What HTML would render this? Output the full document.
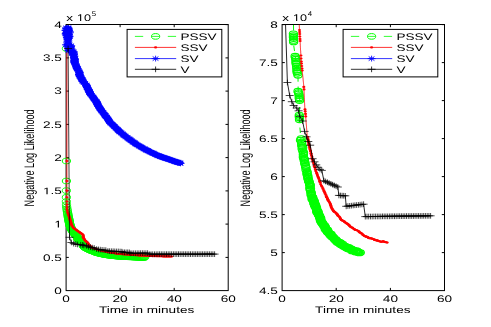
<!DOCTYPE html>
<html><head><meta charset="utf-8"><title>Negative Log Likelihood vs Time</title>
<style>html,body{margin:0;padding:0;background:#fff;}body{width:491px;height:327px;overflow:hidden;font-family:"Liberation Sans",sans-serif;}svg{display:block;will-change:transform;}text{text-rendering:geometricPrecision;}</style></head>
<body>
<svg width="491" height="327" viewBox="0 0 491 327" font-family="'Liberation Sans', sans-serif" fill="#000">
<defs><clipPath id="c1"><rect x="61.1" y="24.5" width="172.1" height="266.1"/></clipPath><clipPath id="c2"><rect x="282.1" y="24.5" width="162.1" height="266.1"/></clipPath></defs>
<rect width="491" height="327" fill="#fff"/>
<rect x="66.1" y="24.5" width="162.1" height="266.1" fill="#fff" stroke="#000" stroke-width="1"/><text transform="translate(66.1 302.2) scale(1.43 1)" text-anchor="middle" font-size="9.5">0</text><text transform="translate(120.1 302.2) scale(1.43 1)" text-anchor="middle" font-size="9.5">20</text><text transform="translate(174.2 302.2) scale(1.43 1)" text-anchor="middle" font-size="9.5">40</text><text transform="translate(228.2 302.2) scale(1.43 1)" text-anchor="middle" font-size="9.5">60</text><text transform="translate(61.9 293.9) scale(1.43 1)" text-anchor="end" font-size="9.5">0</text><text transform="translate(61.9 260.7) scale(1.43 1)" text-anchor="end" font-size="9.5">0.5</text><g transform="translate(61.9 227.4) scale(1.43 1)"><path transform="translate(-5.28 0) scale(0.00464 -0.00464)" d="M515 0V1237L197 1010V1180L530 1409H696V0Z"/></g><g transform="translate(61.9 194.2) scale(1.43 1)"><path transform="translate(-13.21 0) scale(0.00464 -0.00464)" d="M515 0V1237L197 1010V1180L530 1409H696V0Z"/><text x="-7.92" font-size="9.5">.5</text></g><text transform="translate(61.9 160.9) scale(1.43 1)" text-anchor="end" font-size="9.5">2</text><text transform="translate(61.9 127.7) scale(1.43 1)" text-anchor="end" font-size="9.5">2.5</text><text transform="translate(61.9 94.4) scale(1.43 1)" text-anchor="end" font-size="9.5">3</text><text transform="translate(61.9 61.2) scale(1.43 1)" text-anchor="end" font-size="9.5">3.5</text><text transform="translate(61.9 27.9) scale(1.43 1)" text-anchor="end" font-size="9.5">4</text><path d="M120.1 290.6v-2.7M120.1 24.5v2.7M174.2 290.6v-2.7M174.2 24.5v2.7M66.1 257.4h2.7M228.2 257.4h-2.7M66.1 224.1h2.7M228.2 224.1h-2.7M66.1 190.9h2.7M228.2 190.9h-2.7M66.1 157.6h2.7M228.2 157.6h-2.7M66.1 124.4h2.7M228.2 124.4h-2.7M66.1 91.1h2.7M228.2 91.1h-2.7M66.1 57.9h2.7M228.2 57.9h-2.7M66.1 24.6h2.7M228.2 24.6h-2.7" stroke="#000" stroke-width="1" fill="none"/><text transform="translate(146.6 313) scale(1.43 1)" text-anchor="middle" font-size="9.5">Time in minutes</text><text transform="translate(34.1 157.9) scale(1.52 1) rotate(-90)" text-anchor="middle" font-size="9.1">Negative Log Likelihood</text><text transform="translate(66.2 20.9) scale(1.43 1)" text-anchor="start" font-size="9.5">x</text><g transform="translate(76.9 20.9) scale(1.33 1)"><path transform="translate(0.00 0) scale(0.00464 -0.00464)" d="M515 0V1237L197 1010V1180L530 1409H696V0Z"/><text x="5.28" font-size="9.5">0</text></g><text transform="translate(91.8 15.8) scale(1.15 1)" text-anchor="start" font-size="6.8">5</text>
<g clip-path="url(#c1)" fill="none">
<path d="M66.4 197.3 L66.4 204 L66.8 208 L67.6 213 L68.7 219 L69.9 225 L71.6 229.5 L73.6 232.5 L75.4 234.8 L77.5 237.3 L77.8 239.3 L79.2 240.2 L82 242 L82.2 243.2 L83.8 244 L83.4 245.3 L83.2 245.7 L84.8 247.4 L85.4 247.8 L88 249.1 L90.8 250.4 L93.2 251.3 L96.4 252.6 L98.6 253.1 L102 253.9 L106.1 254.8 L112 255.6 L119 256.2 L128.3 256.8 L136 257.1 L142.5 257.3 L144.6 257.4" stroke="#0f0" stroke-width="1" stroke-dasharray="6 6"/>
<g stroke="#0f0" stroke-width="1"><ellipse cx="66.4" cy="48.5" rx="4.1" ry="2.8"/><ellipse cx="66.4" cy="161" rx="4.1" ry="2.8"/><ellipse cx="66.4" cy="181" rx="4.1" ry="2.8"/><ellipse cx="66.4" cy="190.6" rx="4.1" ry="2.8"/><ellipse cx="66.4" cy="197.3" rx="4.1" ry="2.8"/><ellipse cx="66.4" cy="201.5" rx="4.1" ry="2.8"/><ellipse cx="66.5" cy="204.6" rx="4.1" ry="2.8"/><ellipse cx="66.7" cy="207" rx="4.1" ry="2.8"/><ellipse cx="67" cy="209" rx="4.1" ry="2.8"/><ellipse cx="67.2" cy="210.6" rx="4.1" ry="2.8"/><ellipse cx="67.5" cy="212.1" rx="4.1" ry="2.8"/><ellipse cx="67.7" cy="213.4" rx="4.1" ry="2.8"/><ellipse cx="67.9" cy="214.6" rx="4.1" ry="2.8"/><ellipse cx="68.1" cy="215.7" rx="4.1" ry="2.8"/><ellipse cx="68.3" cy="216.7" rx="4.1" ry="2.8"/><ellipse cx="68.4" cy="217.5" rx="4.1" ry="2.8"/><ellipse cx="68.6" cy="218.3" rx="4.1" ry="2.8"/><ellipse cx="68.7" cy="219" rx="4.1" ry="2.8"/><ellipse cx="68.8" cy="219.6" rx="4.1" ry="2.8"/><ellipse cx="68.9" cy="220.2" rx="4.1" ry="2.8"/><ellipse cx="69.1" cy="220.8" rx="4.1" ry="2.8"/><ellipse cx="69.2" cy="221.4" rx="4.1" ry="2.8"/><ellipse cx="69.3" cy="222" rx="4.1" ry="2.8"/><ellipse cx="69.4" cy="222.5" rx="4.1" ry="2.8"/><ellipse cx="69.5" cy="223.1" rx="4.1" ry="2.8"/><ellipse cx="69.6" cy="223.7" rx="4.1" ry="2.8"/><ellipse cx="69.8" cy="224.3" rx="4.1" ry="2.8"/><ellipse cx="69.9" cy="224.9" rx="4.1" ry="2.8"/><ellipse cx="70.1" cy="225.5" rx="4.1" ry="2.8"/><ellipse cx="70.3" cy="226" rx="4.1" ry="2.8"/><ellipse cx="70.5" cy="226.6" rx="4.1" ry="2.8"/><ellipse cx="70.7" cy="227.2" rx="4.1" ry="2.8"/><ellipse cx="70.9" cy="227.7" rx="4.1" ry="2.8"/><ellipse cx="71.1" cy="228.3" rx="4.1" ry="2.8"/><ellipse cx="71.3" cy="228.8" rx="4.1" ry="2.8"/><ellipse cx="71.6" cy="229.4" rx="4.1" ry="2.8"/><ellipse cx="71.9" cy="229.9" rx="4.1" ry="2.8"/><ellipse cx="72.2" cy="230.4" rx="4.1" ry="2.8"/><ellipse cx="72.5" cy="230.9" rx="4.1" ry="2.8"/><ellipse cx="72.9" cy="231.4" rx="4.1" ry="2.8"/><ellipse cx="73.2" cy="231.9" rx="4.1" ry="2.8"/><ellipse cx="73.5" cy="232.4" rx="4.1" ry="2.8"/><ellipse cx="73.9" cy="232.9" rx="4.1" ry="2.8"/><ellipse cx="74.3" cy="233.4" rx="4.1" ry="2.8"/><ellipse cx="74.6" cy="233.8" rx="4.1" ry="2.8"/><ellipse cx="75" cy="234.3" rx="4.1" ry="2.8"/><ellipse cx="75.4" cy="234.8" rx="4.1" ry="2.8"/><ellipse cx="75.8" cy="235.2" rx="4.1" ry="2.8"/><ellipse cx="76.1" cy="235.7" rx="4.1" ry="2.8"/><ellipse cx="76.5" cy="236.2" rx="4.1" ry="2.8"/><ellipse cx="76.9" cy="236.6" rx="4.1" ry="2.8"/><ellipse cx="77.3" cy="237.1" rx="4.1" ry="2.8"/><ellipse cx="77.5" cy="237.4" rx="4.1" ry="2.8"/><ellipse cx="77.6" cy="238" rx="4.1" ry="2.8"/><ellipse cx="77.7" cy="238.5" rx="4.1" ry="2.8"/><ellipse cx="77.8" cy="239.1" rx="4.1" ry="2.8"/><ellipse cx="78.1" cy="239.5" rx="4.1" ry="2.8"/><ellipse cx="78.6" cy="239.8" rx="4.1" ry="2.8"/><ellipse cx="79.1" cy="240.1" rx="4.1" ry="2.8"/><ellipse cx="79.6" cy="240.4" rx="4.1" ry="2.8"/><ellipse cx="80.1" cy="240.7" rx="4.1" ry="2.8"/><ellipse cx="80.6" cy="241.1" rx="4.1" ry="2.8"/><ellipse cx="81.1" cy="241.4" rx="4.1" ry="2.8"/><ellipse cx="81.5" cy="241.7" rx="4.1" ry="2.8"/><ellipse cx="82" cy="242" rx="4.1" ry="2.8"/><ellipse cx="82.1" cy="242.6" rx="4.1" ry="2.8"/><ellipse cx="82.2" cy="243.1" rx="4.1" ry="2.8"/><ellipse cx="82.6" cy="243.4" rx="4.1" ry="2.8"/><ellipse cx="83.2" cy="243.7" rx="4.1" ry="2.8"/><ellipse cx="83.7" cy="244" rx="4.1" ry="2.8"/><ellipse cx="83.6" cy="244.5" rx="4.1" ry="2.8"/><ellipse cx="83.5" cy="245.1" rx="4.1" ry="2.8"/><ellipse cx="83.2" cy="245.6" rx="4.1" ry="2.8"/><ellipse cx="83.6" cy="246.1" rx="4.1" ry="2.8"/><ellipse cx="84" cy="246.5" rx="4.1" ry="2.8"/><ellipse cx="84.3" cy="246.9" rx="4.1" ry="2.8"/><ellipse cx="84.7" cy="247.3" rx="4.1" ry="2.8"/><ellipse cx="85.2" cy="247.7" rx="4.1" ry="2.8"/><ellipse cx="85.7" cy="247.9" rx="4.1" ry="2.8"/><ellipse cx="86.2" cy="248.2" rx="4.1" ry="2.8"/><ellipse cx="86.8" cy="248.5" rx="4.1" ry="2.8"/><ellipse cx="87.3" cy="248.7" rx="4.1" ry="2.8"/><ellipse cx="87.8" cy="249" rx="4.1" ry="2.8"/><ellipse cx="88.3" cy="249.2" rx="4.1" ry="2.8"/><ellipse cx="88.8" cy="249.5" rx="4.1" ry="2.8"/><ellipse cx="89.3" cy="249.7" rx="4.1" ry="2.8"/><ellipse cx="89.8" cy="249.9" rx="4.1" ry="2.8"/><ellipse cx="90.3" cy="250.2" rx="4.1" ry="2.8"/><ellipse cx="90.8" cy="250.4" rx="4.1" ry="2.8"/><ellipse cx="91.4" cy="250.6" rx="4.1" ry="2.8"/><ellipse cx="91.9" cy="250.8" rx="4.1" ry="2.8"/><ellipse cx="92.5" cy="251" rx="4.1" ry="2.8"/><ellipse cx="93" cy="251.2" rx="4.1" ry="2.8"/><ellipse cx="93.6" cy="251.4" rx="4.1" ry="2.8"/><ellipse cx="94.2" cy="251.7" rx="4.1" ry="2.8"/><ellipse cx="94.7" cy="251.9" rx="4.1" ry="2.8"/><ellipse cx="95.2" cy="252.1" rx="4.1" ry="2.8"/><ellipse cx="95.8" cy="252.4" rx="4.1" ry="2.8"/><ellipse cx="96.3" cy="252.6" rx="4.1" ry="2.8"/><ellipse cx="97" cy="252.7" rx="4.1" ry="2.8"/><ellipse cx="97.5" cy="252.9" rx="4.1" ry="2.8"/><ellipse cx="98.1" cy="253" rx="4.1" ry="2.8"/><ellipse cx="98.6" cy="253.1" rx="4.1" ry="2.8"/><ellipse cx="99.2" cy="253.3" rx="4.1" ry="2.8"/><ellipse cx="99.8" cy="253.4" rx="4.1" ry="2.8"/><ellipse cx="100.4" cy="253.6" rx="4.1" ry="2.8"/><ellipse cx="101.1" cy="253.7" rx="4.1" ry="2.8"/><ellipse cx="101.7" cy="253.9" rx="4.1" ry="2.8"/><ellipse cx="102.2" cy="254" rx="4.1" ry="2.8"/><ellipse cx="102.8" cy="254.1" rx="4.1" ry="2.8"/><ellipse cx="103.4" cy="254.2" rx="4.1" ry="2.8"/><ellipse cx="104" cy="254.3" rx="4.1" ry="2.8"/><ellipse cx="104.6" cy="254.5" rx="4.1" ry="2.8"/><ellipse cx="105.2" cy="254.6" rx="4.1" ry="2.8"/><ellipse cx="105.8" cy="254.7" rx="4.1" ry="2.8"/><ellipse cx="106.4" cy="254.8" rx="4.1" ry="2.8"/><ellipse cx="107" cy="254.9" rx="4.1" ry="2.8"/><ellipse cx="107.7" cy="255" rx="4.1" ry="2.8"/><ellipse cx="108.3" cy="255.1" rx="4.1" ry="2.8"/><ellipse cx="108.9" cy="255.1" rx="4.1" ry="2.8"/><ellipse cx="109.6" cy="255.2" rx="4.1" ry="2.8"/><ellipse cx="110.2" cy="255.3" rx="4.1" ry="2.8"/><ellipse cx="110.9" cy="255.4" rx="4.1" ry="2.8"/><ellipse cx="111.5" cy="255.5" rx="4.1" ry="2.8"/><ellipse cx="112.2" cy="255.6" rx="4.1" ry="2.8"/><ellipse cx="112.8" cy="255.6" rx="4.1" ry="2.8"/><ellipse cx="113.4" cy="255.7" rx="4.1" ry="2.8"/><ellipse cx="114" cy="255.8" rx="4.1" ry="2.8"/><ellipse cx="114.6" cy="255.8" rx="4.1" ry="2.8"/><ellipse cx="115.2" cy="255.9" rx="4.1" ry="2.8"/><ellipse cx="115.8" cy="255.9" rx="4.1" ry="2.8"/><ellipse cx="116.4" cy="256" rx="4.1" ry="2.8"/><ellipse cx="117.1" cy="256.1" rx="4.1" ry="2.8"/><ellipse cx="117.7" cy="256.1" rx="4.1" ry="2.8"/><ellipse cx="118.3" cy="256.2" rx="4.1" ry="2.8"/><ellipse cx="118.9" cy="256.2" rx="4.1" ry="2.8"/><ellipse cx="119.6" cy="256.3" rx="4.1" ry="2.8"/><ellipse cx="120.4" cy="256.3" rx="4.1" ry="2.8"/><ellipse cx="121.1" cy="256.4" rx="4.1" ry="2.8"/><ellipse cx="121.9" cy="256.4" rx="4.1" ry="2.8"/><ellipse cx="122.6" cy="256.4" rx="4.1" ry="2.8"/><ellipse cx="123.4" cy="256.5" rx="4.1" ry="2.8"/><ellipse cx="124.1" cy="256.5" rx="4.1" ry="2.8"/><ellipse cx="124.9" cy="256.6" rx="4.1" ry="2.8"/><ellipse cx="125.6" cy="256.6" rx="4.1" ry="2.8"/><ellipse cx="126.3" cy="256.7" rx="4.1" ry="2.8"/><ellipse cx="127.1" cy="256.7" rx="4.1" ry="2.8"/><ellipse cx="127.8" cy="256.8" rx="4.1" ry="2.8"/><ellipse cx="128.6" cy="256.8" rx="4.1" ry="2.8"/><ellipse cx="129.4" cy="256.8" rx="4.1" ry="2.8"/><ellipse cx="130.2" cy="256.9" rx="4.1" ry="2.8"/><ellipse cx="131" cy="256.9" rx="4.1" ry="2.8"/><ellipse cx="131.8" cy="256.9" rx="4.1" ry="2.8"/><ellipse cx="132.6" cy="257" rx="4.1" ry="2.8"/><ellipse cx="133.4" cy="257" rx="4.1" ry="2.8"/><ellipse cx="134.1" cy="257.1" rx="4.1" ry="2.8"/><ellipse cx="134.9" cy="257.1" rx="4.1" ry="2.8"/><ellipse cx="135.7" cy="257.1" rx="4.1" ry="2.8"/><ellipse cx="136.6" cy="257.2" rx="4.1" ry="2.8"/><ellipse cx="137.1" cy="257.2" rx="4.1" ry="2.8"/><ellipse cx="137.7" cy="257.2" rx="4.1" ry="2.8"/><ellipse cx="138.3" cy="257.2" rx="4.1" ry="2.8"/><ellipse cx="138.8" cy="257.2" rx="4.1" ry="2.8"/><ellipse cx="139.4" cy="257.2" rx="4.1" ry="2.8"/><ellipse cx="140" cy="257.3" rx="4.1" ry="2.8"/><ellipse cx="140.5" cy="257.3" rx="4.1" ry="2.8"/><ellipse cx="141.1" cy="257.3" rx="4.1" ry="2.8"/><ellipse cx="141.7" cy="257.3" rx="4.1" ry="2.8"/><ellipse cx="142.2" cy="257.3" rx="4.1" ry="2.8"/><ellipse cx="142.8" cy="257.3" rx="4.1" ry="2.8"/><ellipse cx="143.4" cy="257.4" rx="4.1" ry="2.8"/><ellipse cx="144" cy="257.4" rx="4.1" ry="2.8"/><ellipse cx="144.6" cy="257.4" rx="4.1" ry="2.8"/></g>
<path d="M66.9 48.5 L66.9 161 L66.9 181 L66.9 190.6 L66.9 197.3 L67 209 L67.8 213 L69.4 217.4 L70.4 221 L71.6 225 L73.6 228 L76.1 229.8 L80 232.6 L83 234.6 L83.4 237.3 L83.2 237.4 L83.3 237.5 L83.3 237.5 L83.3 237.6 L83.3 237.6 L83.4 237.7 L83.4 237.7 L83.4 237.8 L83.4 237.8 L83.5 237.8 L83.5 237.9 L83.5 237.9 L83.5 238 L83.6 238 L83.6 238.1 L83.6 238.1 L83.7 238.1 L83.7 238.2 L83.7 238.2 L83.7 238.3 L83.8 238.3 L83.8 238.4 L83.8 238.4 L83.8 238.5 L83.9 238.5 L83.9 238.5 L83.9 238.6 L84 238.6 L84 238.7 L84 238.7 L84 238.8 L84.1 238.8 L84.1 238.8 L84.1 238.9 L84.1 238.9 L84.2 239 L84.2 239 L84.2 239.1 L84.2 239.1 L84.3 239.2 L84.3 239.2 L84.3 239.2 L84.4 239.3 L84.4 239.3 L84.4 239.4 L84.4 239.4 L84.5 239.5 L84.5 239.5 L84.5 239.5 L84.5 239.6 L84.6 239.6 L84.6 239.7 L84.6 239.7 L84.7 239.8 L84.7 239.8 L84.7 239.9 L84.7 239.9 L84.8 239.9 L84.8 240 L84.8 240 L84.8 240.1 L84.9 240.1 L84.9 240.2 L84.9 240.2 L84.9 240.2 L85 240.3 L85 240.3 L85 240.4 L85.1 240.4 L85.1 240.5 L85.1 240.5 L85.2 240.6 L85.2 240.6 L85.3 240.6 L85.3 240.7 L85.4 240.7 L85.4 240.8 L85.5 240.8 L85.5 240.9 L85.6 240.9 L85.6 240.9 L85.7 241 L85.7 241 L85.8 241.1 L85.8 241.1 L85.9 241.2 L85.9 241.2 L86 241.2 L86 241.3 L86.1 241.3 L86.1 241.4 L86.2 241.4 L86.3 241.5 L86.3 241.5 L86.4 241.6 L86.4 241.6 L86.5 241.6 L86.5 241.7 L86.6 241.7 L86.6 241.8 L86.7 241.8 L86.7 241.9 L86.8 241.9 L86.8 241.9 L86.9 242 L86.9 242 L87 242.1 L87 242.1 L87.1 242.2 L87.1 242.2 L87.2 242.3 L87.2 242.3 L87.3 242.3 L87.3 242.4 L87.4 242.4 L87.4 242.5 L87.5 242.5 L87.5 242.6 L87.6 242.6 L87.6 242.6 L87.7 242.7 L87.7 242.7 L87.8 242.8 L87.8 242.8 L87.8 242.9 L87.9 242.9 L87.9 242.9 L87.9 243 L87.9 243 L88 243.1 L88 243.1 L88 243.2 L88 243.2 L88 243.3 L88.1 243.3 L88.1 243.3 L88.1 243.4 L88.1 243.4 L88.2 243.5 L88.2 243.5 L88.2 243.6 L88.2 243.6 L88.3 243.7 L88.3 243.7 L88.3 243.7 L88.3 243.8 L88.3 243.8 L88.4 243.9 L88.4 243.9 L88.4 244 L88.4 244 L88.5 244 L88.5 244.1 L88.5 244.1 L88.5 244.2 L88.5 244.2 L88.6 244.3 L88.6 244.3 L88.6 244.4 L88.6 244.4 L88.7 244.4 L88.7 244.5 L88.7 244.5 L88.7 244.6 L88.8 244.6 L88.8 244.7 L88.8 244.7 L88.9 244.7 L88.9 244.8 L89 244.8 L89 244.9 L89.1 244.9 L89.2 245 L89.2 245 L89.3 245 L89.3 245.1 L89.4 245.1 L89.4 245.2 L89.5 245.2 L89.5 245.3 L89.5 245.3 L89.6 245.4 L89.6 245.4 L89.7 245.4 L89.7 245.5 L89.7 245.5 L89.8 245.6 L89.8 245.6 L89.9 245.7 L89.9 245.7 L89.9 245.7 L90 245.8 L90 245.8 L90.1 245.9 L90.1 245.9 L90.1 246 L90.2 246 L90.2 246.1 L90.3 246.1 L90.3 246.1 L90.3 246.2 L90.4 246.2 L90.4 246.3 L90.5 246.3 L90.5 246.4 L90.5 246.4 L90.6 246.4 L90.6 246.5 L90.7 246.5 L90.7 246.6 L90.7 246.6 L90.8 246.7 L90.8 246.7 L90.9 246.8 L90.9 246.8 L90.9 246.8 L91 246.9 L91 246.9 L91.1 247 L91.1 247 L91.1 247.1 L91.2 247.1 L91.2 247.1 L91.3 247.2 L91.4 247.2 L91.5 247.3 L91.6 247.3 L91.7 247.4 L91.8 247.4 L91.9 247.4 L92 247.5 L92.1 247.5 L92.2 247.6 L92.3 247.6 L92.4 247.7 L92.5 247.7 L92.6 247.7 L92.7 247.8 L92.8 247.8 L92.9 247.9 L93 247.9 L93.1 248 L93.2 248 L93.2 248 L93.3 248.1 L93.4 248.1 L93.5 248.2 L93.6 248.2 L93.8 248.3 L93.9 248.3 L94 248.3 L94.1 248.4 L94.2 248.4 L94.4 248.5 L94.5 248.5 L94.6 248.6 L94.7 248.6 L94.8 248.6 L95 248.7 L95.1 248.7 L95.2 248.8 L95.3 248.8 L95.4 248.9 L95.6 248.9 L95.7 248.9 L95.8 249 L95.9 249 L96 249.1 L96.2 249.1 L96.3 249.2 L96.4 249.2 L96.5 249.2 L96.6 249.3 L96.8 249.3 L96.9 249.4 L97 249.4 L97.2 249.4 L97.3 249.5 L97.5 249.5 L97.6 249.6 L97.8 249.6 L97.9 249.7 L98.1 249.7 L98.2 249.7 L98.4 249.8 L98.5 249.8 L98.7 249.9 L98.8 249.9 L99 250 L99.1 250 L99.3 250 L99.4 250.1 L99.6 250.1 L99.7 250.2 L99.9 250.2 L100 250.2 L100.2 250.3 L100.4 250.3 L100.5 250.4 L100.7 250.4 L100.8 250.4 L101 250.5 L101.2 250.5 L101.3 250.6 L101.5 250.6 L101.6 250.7 L101.8 250.7 L102 250.7 L102.2 250.8 L102.4 250.8 L102.6 250.9 L102.8 250.9 L103 251 L103.2 251 L103.4 251.1 L103.6 251.1 L103.7 251.1 L103.9 251.2 L104.1 251.2 L104.3 251.2 L104.5 251.3 L104.7 251.3 L104.9 251.4 L105.1 251.4 L105.3 251.5 L105.5 251.5 L105.7 251.5 L105.9 251.6 L106.1 251.6 L106.2 251.6 L106.4 251.7 L106.6 251.7 L106.8 251.7 L107 251.8 L107.3 251.8 L107.5 251.9 L107.7 251.9 L107.9 251.9 L108.1 252 L108.3 252 L108.5 252.1 L108.7 252.1 L108.9 252.1 L109.1 252.2 L109.3 252.2 L109.5 252.3 L109.7 252.3 L109.9 252.4 L110.1 252.4 L110.3 252.5 L110.5 252.5 L110.7 252.5 L110.9 252.5 L111.2 252.6 L111.4 252.6 L111.6 252.6 L111.8 252.7 L112 252.7 L112.2 252.8 L112.4 252.8 L112.7 252.9 L112.9 252.9 L113.1 252.9 L113.3 253 L113.6 253 L113.8 253 L114 253.1 L114.2 253.1 L114.5 253.2 L114.7 253.3 L114.9 253.3 L115.2 253.4 L115.4 253.4 L115.6 253.4 L115.8 253.5 L116.1 253.5 L116.3 253.5 L116.5 253.6 L116.7 253.6 L117 253.6 L117.2 253.7 L117.5 253.7 L117.8 253.8 L118.2 253.8 L118.5 253.8 L118.8 253.8 L119.1 253.8 L119.5 253.8 L119.8 253.9 L120.1 253.9 L120.5 253.9 L120.8 254 L121.1 254 L121.5 254.1 L121.8 254.1 L122.1 254.1 L122.4 254.2 L122.8 254.2 L123.1 254.2 L123.4 254.2 L123.8 254.3 L124.1 254.3 L124.4 254.4 L124.8 254.4 L125.2 254.5 L125.5 254.5 L125.9 254.5 L126.3 254.5 L126.7 254.6 L127.1 254.6 L127.5 254.6 L127.9 254.6 L128.3 254.7 L128.7 254.7 L129.1 254.7 L129.5 254.7 L129.9 254.8 L130.3 254.8 L130.7 254.8 L131.1 254.8 L131.5 254.8 L131.9 254.9 L132.3 254.9 L132.7 254.9 L133.1 255 L133.5 255 L134 255 L134.4 255.1 L134.8 255.1 L135.2 255.1 L135.6 255.1 L136 255.2 L136.4 255.2 L136.8 255.2 L137.3 255.2 L137.7 255.3 L138.1 255.3 L138.5 255.3 L138.9 255.4 L139.3 255.4 L139.7 255.4 L140.2 255.4 L140.6 255.4 L141 255.4 L141.4 255.4 L141.8 255.4 L142.2 255.5 L142.6 255.5 L143 255.5 L143.4 255.6 L143.8 255.6 L144.2 255.6 L144.7 255.6 L145.1 255.7 L145.5 255.7 L145.9 255.7 L146.3 255.7 L146.7 255.8 L147.2 255.8 L147.6 255.9 L148.1 255.9 L148.5 255.9 L149 255.9 L149.4 256 L149.9 256 L150.3 256 L150.8 256 L151.2 256 L151.7 256 L152.1 256 L152.6 256.1 L153 256.1 L153.5 256.1 L154 256.1 L154.4 256.1 L154.9 256.1 L155.4 256.1 L155.9 256.1 L156.3 256.1 L156.8 256.1 L157.3 256.2 L157.8 256.2 L158.2 256.2 L158.7 256.3 L159.2 256.3 L159.7 256.3 L160.1 256.3 L160.6 256.3 L161.1 256.3 L161.6 256.3 L162.1 256.3 L162.6 256.3 L163 256.4 L163.5 256.4 L164 256.4 L164.5 256.4 L165 256.4 L165.5 256.4 L166 256.4 L166.4 256.4 L166.9 256.4 L167.4 256.4 L167.9 256.4 L168.4 256.4 L168.9 256.4 L169.4 256.4 L169.9 256.5 L170.3 256.5 L170.8 256.5 L171.3 256.5 L171.8 256.5" stroke="#f00" stroke-width="0.8"/>
<g fill="#f00"><ellipse cx="66.9" cy="48.5" rx="1.6" ry="1.05"/><ellipse cx="66.9" cy="161" rx="1.6" ry="1.05"/><ellipse cx="66.9" cy="181" rx="1.6" ry="1.05"/><ellipse cx="66.9" cy="190.6" rx="1.6" ry="1.05"/><ellipse cx="66.9" cy="197.3" rx="1.6" ry="1.05"/><ellipse cx="66.9" cy="201.5" rx="1.6" ry="1.05"/><ellipse cx="67" cy="204.6" rx="1.6" ry="1.05"/><ellipse cx="67" cy="207" rx="1.6" ry="1.05"/><ellipse cx="67" cy="209" rx="1.6" ry="1.05"/><ellipse cx="67.3" cy="210.7" rx="1.6" ry="1.05"/><ellipse cx="67.6" cy="212.2" rx="1.6" ry="1.05"/><ellipse cx="68" cy="213.4" rx="1.6" ry="1.05"/><ellipse cx="68.4" cy="214.6" rx="1.6" ry="1.05"/><ellipse cx="68.7" cy="215.6" rx="1.6" ry="1.05"/><ellipse cx="69.1" cy="216.5" rx="1.6" ry="1.05"/><ellipse cx="69.4" cy="217.4" rx="1.6" ry="1.05"/><ellipse cx="69.6" cy="218.2" rx="1.6" ry="1.05"/><ellipse cx="69.8" cy="218.8" rx="1.6" ry="1.05"/><ellipse cx="70" cy="219.6" rx="1.6" ry="1.05"/><ellipse cx="70.2" cy="220.4" rx="1.6" ry="1.05"/><ellipse cx="70.4" cy="221.1" rx="1.6" ry="1.05"/><ellipse cx="70.7" cy="221.9" rx="1.6" ry="1.05"/><ellipse cx="70.9" cy="222.7" rx="1.6" ry="1.05"/><ellipse cx="71.1" cy="223.4" rx="1.6" ry="1.05"/><ellipse cx="71.4" cy="224.2" rx="1.6" ry="1.05"/><ellipse cx="71.6" cy="225" rx="1.6" ry="1.05"/><ellipse cx="72" cy="225.7" rx="1.6" ry="1.05"/><ellipse cx="72.5" cy="226.3" rx="1.6" ry="1.05"/><ellipse cx="72.9" cy="227" rx="1.6" ry="1.05"/><ellipse cx="73.4" cy="227.7" rx="1.6" ry="1.05"/><ellipse cx="73.9" cy="228.2" rx="1.6" ry="1.05"/><ellipse cx="74.6" cy="228.7" rx="1.6" ry="1.05"/><ellipse cx="75.2" cy="229.2" rx="1.6" ry="1.05"/><ellipse cx="75.9" cy="229.6" rx="1.6" ry="1.05"/><ellipse cx="76.5" cy="230.1" rx="1.6" ry="1.05"/><ellipse cx="77.2" cy="230.6" rx="1.6" ry="1.05"/><ellipse cx="77.8" cy="231" rx="1.6" ry="1.05"/><ellipse cx="78.5" cy="231.5" rx="1.6" ry="1.05"/><ellipse cx="79.1" cy="232" rx="1.6" ry="1.05"/><ellipse cx="79.8" cy="232.4" rx="1.6" ry="1.05"/><ellipse cx="80.4" cy="232.9" rx="1.6" ry="1.05"/><ellipse cx="81.1" cy="233.3" rx="1.6" ry="1.05"/><ellipse cx="81.8" cy="233.8" rx="1.6" ry="1.05"/><ellipse cx="82.4" cy="234.2" rx="1.6" ry="1.05"/><ellipse cx="83" cy="234.8" rx="1.6" ry="1.05"/><ellipse cx="83.2" cy="235.6" rx="1.6" ry="1.05"/><ellipse cx="83.3" cy="236.4" rx="1.6" ry="1.05"/><ellipse cx="83.4" cy="237.2" rx="1.6" ry="1.05"/><ellipse cx="83.2" cy="237.4" rx="1.6" ry="1.05"/><ellipse cx="83.6" cy="238.1" rx="1.6" ry="1.05"/><ellipse cx="84.1" cy="238.8" rx="1.6" ry="1.05"/><ellipse cx="84.5" cy="239.5" rx="1.6" ry="1.05"/><ellipse cx="84.9" cy="240.2" rx="1.6" ry="1.05"/><ellipse cx="85.5" cy="240.8" rx="1.6" ry="1.05"/><ellipse cx="86.1" cy="241.3" rx="1.6" ry="1.05"/><ellipse cx="86.7" cy="241.9" rx="1.6" ry="1.05"/><ellipse cx="87.3" cy="242.4" rx="1.6" ry="1.05"/><ellipse cx="87.9" cy="243" rx="1.6" ry="1.05"/><ellipse cx="88.3" cy="243.7" rx="1.6" ry="1.05"/><ellipse cx="88.7" cy="244.5" rx="1.6" ry="1.05"/><ellipse cx="89.3" cy="245" rx="1.6" ry="1.05"/><ellipse cx="89.9" cy="245.7" rx="1.6" ry="1.05"/><ellipse cx="90.4" cy="246.3" rx="1.6" ry="1.05"/><ellipse cx="91" cy="246.9" rx="1.6" ry="1.05"/><ellipse cx="91.7" cy="247.4" rx="1.6" ry="1.05"/><ellipse cx="92.5" cy="247.7" rx="1.6" ry="1.05"/><ellipse cx="93.2" cy="248" rx="1.6" ry="1.05"/><ellipse cx="94" cy="248.3" rx="1.6" ry="1.05"/><ellipse cx="94.8" cy="248.6" rx="1.6" ry="1.05"/><ellipse cx="95.7" cy="248.9" rx="1.6" ry="1.05"/><ellipse cx="96.5" cy="249.2" rx="1.6" ry="1.05"/><ellipse cx="97.3" cy="249.5" rx="1.6" ry="1.05"/><ellipse cx="98.2" cy="249.7" rx="1.6" ry="1.05"/><ellipse cx="99.1" cy="250" rx="1.6" ry="1.05"/><ellipse cx="99.9" cy="250.2" rx="1.6" ry="1.05"/><ellipse cx="100.7" cy="250.4" rx="1.6" ry="1.05"/><ellipse cx="101.5" cy="250.6" rx="1.6" ry="1.05"/><ellipse cx="102.4" cy="250.8" rx="1.6" ry="1.05"/><ellipse cx="103.4" cy="251.1" rx="1.6" ry="1.05"/><ellipse cx="104.3" cy="251.2" rx="1.6" ry="1.05"/><ellipse cx="105.3" cy="251.5" rx="1.6" ry="1.05"/><ellipse cx="106.2" cy="251.6" rx="1.6" ry="1.05"/><ellipse cx="107" cy="251.8" rx="1.6" ry="1.05"/><ellipse cx="107.9" cy="251.9" rx="1.6" ry="1.05"/><ellipse cx="108.7" cy="252.1" rx="1.6" ry="1.05"/><ellipse cx="109.5" cy="252.3" rx="1.6" ry="1.05"/><ellipse cx="110.3" cy="252.5" rx="1.6" ry="1.05"/><ellipse cx="111.2" cy="252.6" rx="1.6" ry="1.05"/><ellipse cx="112" cy="252.7" rx="1.6" ry="1.05"/><ellipse cx="112.9" cy="252.9" rx="1.6" ry="1.05"/><ellipse cx="113.8" cy="253" rx="1.6" ry="1.05"/><ellipse cx="114.7" cy="253.3" rx="1.6" ry="1.05"/><ellipse cx="115.6" cy="253.4" rx="1.6" ry="1.05"/><ellipse cx="116.5" cy="253.6" rx="1.6" ry="1.05"/><ellipse cx="117.5" cy="253.7" rx="1.6" ry="1.05"/><ellipse cx="118.5" cy="253.8" rx="1.6" ry="1.05"/><ellipse cx="119.5" cy="253.8" rx="1.6" ry="1.05"/><ellipse cx="120.5" cy="253.9" rx="1.6" ry="1.05"/><ellipse cx="121.5" cy="254.1" rx="1.6" ry="1.05"/><ellipse cx="122.4" cy="254.2" rx="1.6" ry="1.05"/><ellipse cx="123.4" cy="254.2" rx="1.6" ry="1.05"/><ellipse cx="124.4" cy="254.4" rx="1.6" ry="1.05"/><ellipse cx="125.5" cy="254.5" rx="1.6" ry="1.05"/><ellipse cx="126.7" cy="254.6" rx="1.6" ry="1.05"/><ellipse cx="127.9" cy="254.6" rx="1.6" ry="1.05"/><ellipse cx="129.1" cy="254.7" rx="1.6" ry="1.05"/><ellipse cx="130.3" cy="254.8" rx="1.6" ry="1.05"/><ellipse cx="131.5" cy="254.8" rx="1.6" ry="1.05"/><ellipse cx="132.3" cy="254.9" rx="1.6" ry="1.05"/><ellipse cx="133.1" cy="255" rx="1.6" ry="1.05"/><ellipse cx="134" cy="255" rx="1.6" ry="1.05"/><ellipse cx="134.8" cy="255.1" rx="1.6" ry="1.05"/><ellipse cx="135.6" cy="255.1" rx="1.6" ry="1.05"/><ellipse cx="136.4" cy="255.2" rx="1.6" ry="1.05"/><ellipse cx="137.3" cy="255.2" rx="1.6" ry="1.05"/><ellipse cx="138.1" cy="255.3" rx="1.6" ry="1.05"/><ellipse cx="138.9" cy="255.4" rx="1.6" ry="1.05"/><ellipse cx="139.7" cy="255.4" rx="1.6" ry="1.05"/><ellipse cx="140.6" cy="255.4" rx="1.6" ry="1.05"/><ellipse cx="141.4" cy="255.4" rx="1.6" ry="1.05"/><ellipse cx="142.2" cy="255.5" rx="1.6" ry="1.05"/><ellipse cx="143" cy="255.5" rx="1.6" ry="1.05"/><ellipse cx="143.8" cy="255.6" rx="1.6" ry="1.05"/><ellipse cx="144.7" cy="255.6" rx="1.6" ry="1.05"/><ellipse cx="145.5" cy="255.7" rx="1.6" ry="1.05"/><ellipse cx="146.3" cy="255.7" rx="1.6" ry="1.05"/><ellipse cx="147.2" cy="255.8" rx="1.6" ry="1.05"/><ellipse cx="148.1" cy="255.9" rx="1.6" ry="1.05"/><ellipse cx="149" cy="255.9" rx="1.6" ry="1.05"/><ellipse cx="149.9" cy="256" rx="1.6" ry="1.05"/><ellipse cx="150.8" cy="256" rx="1.6" ry="1.05"/><ellipse cx="151.7" cy="256" rx="1.6" ry="1.05"/><ellipse cx="152.6" cy="256.1" rx="1.6" ry="1.05"/><ellipse cx="153.5" cy="256.1" rx="1.6" ry="1.05"/><ellipse cx="154.4" cy="256.1" rx="1.6" ry="1.05"/><ellipse cx="155.4" cy="256.1" rx="1.6" ry="1.05"/><ellipse cx="156.3" cy="256.1" rx="1.6" ry="1.05"/><ellipse cx="157.3" cy="256.2" rx="1.6" ry="1.05"/><ellipse cx="158.2" cy="256.2" rx="1.6" ry="1.05"/><ellipse cx="159.2" cy="256.3" rx="1.6" ry="1.05"/><ellipse cx="160.1" cy="256.3" rx="1.6" ry="1.05"/><ellipse cx="161.1" cy="256.3" rx="1.6" ry="1.05"/><ellipse cx="162.1" cy="256.3" rx="1.6" ry="1.05"/><ellipse cx="163" cy="256.4" rx="1.6" ry="1.05"/><ellipse cx="164" cy="256.4" rx="1.6" ry="1.05"/><ellipse cx="165" cy="256.4" rx="1.6" ry="1.05"/><ellipse cx="166" cy="256.4" rx="1.6" ry="1.05"/><ellipse cx="166.9" cy="256.4" rx="1.6" ry="1.05"/><ellipse cx="167.9" cy="256.4" rx="1.6" ry="1.05"/><ellipse cx="168.9" cy="256.4" rx="1.6" ry="1.05"/><ellipse cx="169.9" cy="256.5" rx="1.6" ry="1.05"/><ellipse cx="170.8" cy="256.5" rx="1.6" ry="1.05"/><ellipse cx="171.8" cy="256.5" rx="1.6" ry="1.05"/></g>
<path d="M67.8 28 L68 28 L66.2 28.1 L68.6 28.1 L66.2 28.2 L68.3 28.5 L67.8 28.8 L68.5 29.2 L68 29.7 L68.5 29.7 L67.7 29.9 L65.7 30.2 L66.5 30.2 L65.6 30.4 L68 30.5 L69.1 30.6 L67.5 31.4 L69.6 31.6 L66.9 32.6 L69.8 32.7 L66.6 32.7 L66.1 33.3 L68.2 33.7 L66.5 33.8 L66.7 33.8 L65.6 33.9 L68.9 34.1 L67.1 34.2 L67.6 34.2 L68 34.6 L66 35.1 L69 36 L68.8 36.1 L69.6 36.3 L68.3 36.4 L68.6 36.8 L66.9 37.3 L67.6 37.7 L69.1 37.8 L67 38 L68 38 L68.4 38.5 L67.5 39.5 L68.3 40.2 L67.5 41 L67.7 41.9 L68.3 42 L68.1 44.4 L67.6 44.6 L68.3 44.6 L66 44.8 L69.5 45.1 L67.5 45.2 L68.8 45.5 L68.8 45.6 L71.2 45.7 L68.9 45.8 L68.3 46.2 L71 46.6 L67.7 46.9 L70.5 47.1 L69.4 47.1 L70.1 47.2 L70 47.3 L70.2 47.9 L68.5 48.2 L70.6 48.5 L71.7 49.1 L69.3 49.8 L68.3 50.2 L71.3 50.2 L68.8 50.5 L71.2 50.5 L70.8 51.1 L72 51.6 L73.8 51.8 L72.2 52 L72.6 52.2 L71.7 52.2 L72.1 52.4 L72.5 52.4 L73.7 52.9 L73.9 53.3 L73.9 54.5 L73.3 54.7 L73.4 54.9 L73.3 55.5 L74.1 56.7 L74.3 56.1 L73.9 57.6 L74 58 L74.4 58.8 L74.4 59.1 L74.8 58.8 L74.6 60.1 L75 59.7 L74.8 61 L74.5 60.9 L74.3 60.7 L74.8 61.7 L74.3 61.4 L74.3 62.4 L74.8 62.5 L74.8 63.5 L75.5 64.2 L75.8 64.1 L75.7 65.3 L76.2 65.8 L76.2 66.4 L76.6 66.9 L77.1 67 L76.5 67.9 L77 68.3 L76.9 67.9 L77.5 68.6 L77.2 69.1 L77.8 69.2 L78.1 70.3 L78.4 70.5 L78.9 71.8 L79.3 71.8 L79.4 72.4 L79.6 72.5 L79.7 73.9 L79.4 73.8 L79.4 74.1 L79 74.9 L79.2 74.4 L79.2 74.8 L79.9 74.9 L79.6 76.1 L79.9 75.8 L80.5 76.9 L80.8 77.5 L80.8 78.1 L81.5 77.7 L81.3 78.6 L81.8 78.8 L81.7 79.3 L81.8 79.8 L82.5 79.8 L82.5 80.8 L82.5 81.3 L83.4 81.4 L83.5 82.3 L84 82.5 L84.8 83.4 L84.9 83.5 L85.4 84.2 L86.2 85.1 L86.4 85.5 L86.6 85.2 L86.6 86.5 L87 86.2 L86.8 87 L87 87.2 L87 87.6 L87.5 87.6 L87.6 89 L88.3 89.4 L88.5 89.8 L89 90.3 L88.7 90.5 L89 90.9 L89.2 91.2 L89.7 91.6 L89.3 91.8 L89.5 92.6 L89.5 92.3 L89.8 92.5 L90 93.7 L90.2 93.5 L90.5 94.2 L90.7 94.4 L91.1 95 L91.7 95.5 L92 95.8 L92.6 96.9 L92.9 97.1 L93.2 97.2 L93.4 97.8 L93.6 98.3 L93.8 98.4 L93.9 98.7 L94.4 99.3 L94.8 99.4 L95 100.6 L95.3 100.8 L95.9 101.1 L96.5 101.5 L96.7 101.9 L96.6 102.8 L97 102.5 L97.1 103.2 L97.3 103.2 L97.1 104.2 L97.5 103.9 L97.5 104.4 L97.8 105 L98.2 105.6 L98.3 106 L98.8 106.4 L99 106.9 L99.4 107.5 L99.4 107.9 L99.6 108.2 L100.2 108.4 L100.6 108.9 L100.5 109.4 L100.9 109.7 L100.9 110 L101.3 110.6 L101.6 110.9 L102.1 111.4 L102.4 112.2 L103.1 112.5 L103.4 112.8 L103.7 113.3 L104.2 114 L104.3 114.7 L104.7 115 L105.2 115.5 L105.1 115.5 L105.7 115.5 L105.5 116.3 L106 116.9 L106.4 117 L106.8 117.4 L106.9 117.9 L107.2 118.1 L107.6 118.5 L108.1 119.2 L108.2 119.2 L108.3 119.7 L108.6 120.2 L108.9 120.7 L108.9 120.7 L109.2 121.4 L109.3 121.5 L109.7 121.6 L109.8 122.5 L110.5 122.7 L110.6 123.3 L111.3 123.7 L111.9 124.1 L112.1 124.1 L112.5 124.7 L112.9 124.9 L113.1 125.5 L113.6 125.6 L114.1 126.1 L114 126.3 L114.6 126.6 L115 126.8 L115.2 127.7 L115.7 128 L116 128.3 L116.6 128.5 L117 129 L117.5 129.4 L117.6 129.5 L117.8 130.2 L118 130.1 L118.3 130.6 L118.8 130.9 L119.1 130.8 L119.1 131.5 L119.5 131.8 L119.9 131.8 L120.3 132.1 L121 132.7 L121.2 133 L121.7 133.1 L122.3 133.8 L122.7 134 L123 134.2 L123.1 134.9 L123.8 134.9 L124.1 135.4 L124.3 135.6 L124.9 135.9 L125.4 136.1 L125.7 136.8 L126.1 136.9 L126.9 137.4 L127.4 137.6 L127.7 138 L128.1 138.7 L128.6 138.8 L128.9 139 L129.4 139.2 L129.6 139.3 L130.2 139.7 L130.3 139.9 L130.7 140.2 L131 140.7 L131.5 140.7 L132.1 141 L132.3 141.7 L132.7 141.8 L133.4 142.2 L133.5 142.3 L134.1 142.6 L134.5 142.7 L134.8 143.1 L134.9 143.3 L135.2 143.6 L135.6 144 L136.2 144 L136.5 144.4 L136.9 144.8 L137.4 144.9 L138.1 145.1 L138.6 145.5 L139.1 145.9 L139.4 146.1 L139.8 146.3 L140.5 146.7 L140.8 146.8 L141.1 147.2 L141.5 147.4 L141.8 147.6 L142.3 147.7 L142.9 148.1 L143.3 148.6 L143.9 148.8 L144.4 148.8 L144.7 149 L145.3 149.5 L145.6 149.6 L146.1 149.9 L146.3 150.2 L146.7 150.3 L147 150.2 L147.6 150.7 L147.9 150.6 L148.1 150.8 L148.6 151.1 L149.1 151.3 L149.6 151.8 L150.1 152.1 L150.7 152.3 L151.1 152.4 L151.7 152.6 L152 153 L152.7 153 L152.9 153.4 L153.5 153.3 L153.8 153.5 L154.5 153.8 L155 154.2 L155.3 154.5 L155.9 154.7 L156.6 154.8 L156.9 155.3 L157.5 155.5 L158.1 155.7 L158.6 155.8 L159 155.7 L159.5 156 L159.8 156.4 L160.1 156.5 L160.5 156.6 L161.1 156.6 L161.5 157 L162 157 L162.3 157 L162.9 157.3 L163.3 157.5 L163.7 157.8 L164.4 157.8 L164.7 158.1 L165.2 158.4 L165.6 158.2 L166.1 158.3 L166.5 158.5 L167 158.7 L167.4 158.7 L167.9 159.1 L168.3 159.3 L169 159.3 L169.4 159.6 L169.9 159.6 L170.4 159.9 L171.1 160.2 L171.4 160.3 L172 160.5 L172.3 160.5 L172.7 161 L173.4 160.8 L173.8 161.3 L174.2 161.1 L174.7 161.4 L175.1 161.6 L175.6 161.9 L176.3 161.9 L176.8 162.1 L177.1 162.1 L177.6 162.2 L178.2 162.6 L178.5 162.5 L179 162.9 L179.4 162.7 L179.8 163.1 L180.2 163 L180.5 163.4" stroke="#00f" stroke-width="1"/>
<path d="M64.9 34.1h8M68.9 31.2v5.8M66 32l5.7 4.1M66 36.1l5.7 -4.1M62.2 28.1h8M66.2 25.2v5.8M63.4 26l5.7 4.1M63.4 30.1l5.7 -4.1M64.6 36.8h8M68.6 33.9v5.8M65.7 34.7l5.7 4.1M65.7 38.8l5.7 -4.1M61.6 33.9h8M65.6 31v5.8M62.8 31.8l5.7 4.1M62.8 35.9l5.7 -4.1M65.1 30.6h8M69.1 27.7v5.8M66.2 28.6l5.7 4.1M66.2 32.7l5.7 -4.1M62 35.1h8M66 32.2v5.8M63.2 33.1l5.7 4.1M63.2 37.2l5.7 -4.1M63.6 37.7h8M67.6 34.8v5.8M64.8 35.6l5.7 4.1M64.8 39.7l5.7 -4.1M64.2 33.7h8M68.2 30.8v5.8M65.4 31.6l5.7 4.1M65.4 35.7l5.7 -4.1M64.3 36.4h8M68.3 33.5v5.8M65.5 34.3l5.7 4.1M65.5 38.4l5.7 -4.1M65.1 37.8h8M69.1 34.9v5.8M66.3 35.8l5.7 4.1M66.3 39.9l5.7 -4.1M62.5 30.2h8M66.5 27.3v5.8M63.6 28.1l5.7 4.1M63.6 32.2l5.7 -4.1M62.6 32.7h8M66.6 29.8v5.8M63.8 30.7l5.7 4.1M63.8 34.8l5.7 -4.1M63.7 29.9h8M67.7 27v5.8M64.9 27.8l5.7 4.1M64.9 31.9l5.7 -4.1M65.6 36.3h8M69.6 33.4v5.8M66.8 34.3l5.7 4.1M66.8 38.4l5.7 -4.1M65.8 32.7h8M69.8 29.8v5.8M67 30.6l5.7 4.1M67 34.7l5.7 -4.1M64.8 36.1h8M68.8 33.2v5.8M66 34l5.7 4.1M66 38.1l5.7 -4.1M61.7 30.2h8M65.7 27.3v5.8M62.9 28.1l5.7 4.1M62.9 32.2l5.7 -4.1M62.9 37.3h8M66.9 34.4v5.8M64 35.3l5.7 4.1M64 39.4l5.7 -4.1M62.1 33.3h8M66.1 30.4v5.8M63.3 31.3l5.7 4.1M63.3 35.4l5.7 -4.1M64 29.7h8M68 26.8v5.8M65.2 27.6l5.7 4.1M65.2 31.7l5.7 -4.1M64.5 29.7h8M68.5 26.8v5.8M65.7 27.7l5.7 4.1M65.7 31.8l5.7 -4.1M65.6 31.6h8M69.6 28.7v5.8M66.7 29.5l5.7 4.1M66.7 33.6l5.7 -4.1M62.5 33.8h8M66.5 30.9v5.8M63.7 31.8l5.7 4.1M63.7 35.9l5.7 -4.1M64.5 29.2h8M68.5 26.3v5.8M65.7 27.2l5.7 4.1M65.7 31.3l5.7 -4.1M64.6 28.1h8M68.6 25.2v5.8M65.8 26l5.7 4.1M65.8 30.1l5.7 -4.1M63.8 28.8h8M67.8 25.9v5.8M65 26.7l5.7 4.1M65 30.8l5.7 -4.1M64 34.6h8M68 31.7v5.8M65.1 32.5l5.7 4.1M65.1 36.6l5.7 -4.1M63.1 34.2h8M67.1 31.3v5.8M64.3 32.1l5.7 4.1M64.3 36.2l5.7 -4.1M63.5 31.4h8M67.5 28.5v5.8M64.7 29.3l5.7 4.1M64.7 33.4l5.7 -4.1M63.8 28h8M67.8 25.1v5.8M65 25.9l5.7 4.1M65 30l5.7 -4.1M64.4 38.5h8M68.4 35.6v5.8M65.5 36.4l5.7 4.1M65.5 40.5l5.7 -4.1M62.7 33.8h8M66.7 30.9v5.8M63.9 31.8l5.7 4.1M63.9 35.9l5.7 -4.1M64 30.5h8M68 27.6v5.8M65.2 28.4l5.7 4.1M65.2 32.5l5.7 -4.1M63 38h8M67 35.1v5.8M64.1 36l5.7 4.1M64.1 40.1l5.7 -4.1M65 36h8M69 33.1v5.8M66.2 34l5.7 4.1M66.2 38.1l5.7 -4.1M61.6 30.4h8M65.6 27.5v5.8M62.8 28.3l5.7 4.1M62.8 32.4l5.7 -4.1M64 28h8M68 25.1v5.8M65.1 26l5.7 4.1M65.1 30.1l5.7 -4.1M64.3 28.5h8M68.3 25.6v5.8M65.5 26.5l5.7 4.1M65.5 30.6l5.7 -4.1M62.2 28.2h8M66.2 25.3v5.8M63.4 26.1l5.7 4.1M63.4 30.2l5.7 -4.1M62.9 32.6h8M66.9 29.7v5.8M64 30.6l5.7 4.1M64 34.7l5.7 -4.1M64 38h8M68 35.1v5.8M65.2 36l5.7 4.1M65.2 40.1l5.7 -4.1M63.6 34.2h8M67.6 31.3v5.8M64.7 32.1l5.7 4.1M64.7 36.2l5.7 -4.1M63.5 39.5h8M67.5 36.6v5.8M64.7 37.5l5.7 4.1M64.7 41.6l5.7 -4.1M64.3 40.2h8M68.3 37.3v5.8M65.5 38.1l5.7 4.1M65.5 42.2l5.7 -4.1M63.7 41.9h8M67.7 39v5.8M64.9 39.8l5.7 4.1M64.9 43.9l5.7 -4.1M64.3 42h8M68.3 39.1v5.8M65.5 40l5.7 4.1M65.5 44.1l5.7 -4.1M63.5 41h8M67.5 38.1v5.8M64.7 39l5.7 4.1M64.7 43.1l5.7 -4.1M67.2 45.7h8M71.2 42.8v5.8M68.4 43.6l5.7 4.1M68.4 47.7l5.7 -4.1M64.3 46.2h8M68.3 43.3v5.8M65.4 44.2l5.7 4.1M65.4 48.3l5.7 -4.1M64.3 44.6h8M68.3 41.7v5.8M65.5 42.6l5.7 4.1M65.5 46.7l5.7 -4.1M68.6 52.2h8M72.6 49.3v5.8M69.7 50.1l5.7 4.1M69.7 54.2l5.7 -4.1M67.7 52.2h8M71.7 49.3v5.8M68.9 50.1l5.7 4.1M68.9 54.2l5.7 -4.1M66.8 51.1h8M70.8 48.2v5.8M67.9 49.1l5.7 4.1M67.9 53.2l5.7 -4.1M64.8 50.5h8M68.8 47.6v5.8M65.9 48.4l5.7 4.1M65.9 52.5l5.7 -4.1M62 44.8h8M66 41.9v5.8M63.2 42.7l5.7 4.1M63.2 46.8l5.7 -4.1M64.8 45.6h8M68.8 42.7v5.8M66 43.5l5.7 4.1M66 47.6l5.7 -4.1M64.3 50.2h8M68.3 47.3v5.8M65.4 48.1l5.7 4.1M65.4 52.2l5.7 -4.1M63.7 46.9h8M67.7 44v5.8M64.8 44.8l5.7 4.1M64.8 49l5.7 -4.1M63.5 45.2h8M67.5 42.3v5.8M64.7 43.2l5.7 4.1M64.7 47.3l5.7 -4.1M65.4 47.1h8M69.4 44.2v5.8M66.5 45.1l5.7 4.1M66.5 49.2l5.7 -4.1M66.6 48.5h8M70.6 45.6v5.8M67.7 46.4l5.7 4.1M67.7 50.5l5.7 -4.1M64.9 45.8h8M68.9 42.9v5.8M66 43.7l5.7 4.1M66 47.8l5.7 -4.1M67.3 50.2h8M71.3 47.3v5.8M68.5 48.1l5.7 4.1M68.5 52.2l5.7 -4.1M64.1 44.4h8M68.1 41.5v5.8M65.3 42.4l5.7 4.1M65.3 46.5l5.7 -4.1M63.6 44.6h8M67.6 41.7v5.8M64.8 42.6l5.7 4.1M64.8 46.7l5.7 -4.1M68.1 52.4h8M72.1 49.5v5.8M69.3 50.3l5.7 4.1M69.3 54.4l5.7 -4.1M69.8 51.8h8M73.8 48.9v5.8M70.9 49.8l5.7 4.1M70.9 53.9l5.7 -4.1M68.2 52h8M72.2 49.1v5.8M69.4 50l5.7 4.1M69.4 54.1l5.7 -4.1M65.5 45.1h8M69.5 42.2v5.8M66.7 43.1l5.7 4.1M66.7 47.2l5.7 -4.1M68.5 52.4h8M72.5 49.5v5.8M69.7 50.3l5.7 4.1M69.7 54.4l5.7 -4.1M64.5 48.2h8M68.5 45.3v5.8M65.7 46.2l5.7 4.1M65.7 50.3l5.7 -4.1M66 47.3h8M70 44.4v5.8M67.2 45.2l5.7 4.1M67.2 49.3l5.7 -4.1M65.3 49.8h8M69.3 46.9v5.8M66.5 47.7l5.7 4.1M66.5 51.8l5.7 -4.1M64.8 45.5h8M68.8 42.6v5.8M66 43.5l5.7 4.1M66 47.6l5.7 -4.1M67.2 50.5h8M71.2 47.6v5.8M68.4 48.5l5.7 4.1M68.4 52.6l5.7 -4.1M67.7 49.1h8M71.7 46.2v5.8M68.8 47.1l5.7 4.1M68.8 51.2l5.7 -4.1M67 46.6h8M71 43.7v5.8M68.2 44.6l5.7 4.1M68.2 48.7l5.7 -4.1M66.2 47.9h8M70.2 45v5.8M67.4 45.8l5.7 4.1M67.4 49.9l5.7 -4.1M68 51.6h8M72 48.7v5.8M69.2 49.6l5.7 4.1M69.2 53.7l5.7 -4.1M66.1 47.2h8M70.1 44.3v5.8M67.3 45.2l5.7 4.1M67.3 49.3l5.7 -4.1M66.5 47.1h8M70.5 44.2v5.8M67.7 45l5.7 4.1M67.7 49.1l5.7 -4.1M69.7 52.9h8M73.7 50v5.8M70.8 50.8l5.7 4.1M70.8 54.9l5.7 -4.1M69.9 53.3h8M73.9 50.4v5.8M71 51.3l5.7 4.1M71 55.4l5.7 -4.1M69.9 54.5h8M73.9 51.6v5.8M71 52.5l5.7 4.1M71 56.6l5.7 -4.1M69.3 54.7h8M73.3 51.8v5.8M70.4 52.7l5.7 4.1M70.4 56.8l5.7 -4.1M69.4 54.9h8M73.4 52v5.8M70.5 52.8l5.7 4.1M70.5 56.9l5.7 -4.1M69.3 55.5h8M73.3 52.6v5.8M70.5 53.4l5.7 4.1M70.5 57.5l5.7 -4.1M70.1 56.7h8M74.1 53.8v5.8M71.3 54.7l5.7 4.1M71.3 58.8l5.7 -4.1M70.3 56.1h8M74.3 53.2v5.8M71.4 54l5.7 4.1M71.4 58.1l5.7 -4.1M69.9 57.6h8M73.9 54.7v5.8M71.1 55.6l5.7 4.1M71.1 59.7l5.7 -4.1M70 58h8M74 55.1v5.8M71.1 55.9l5.7 4.1M71.1 60l5.7 -4.1M70.4 58.8h8M74.4 55.9v5.8M71.6 56.8l5.7 4.1M71.6 60.9l5.7 -4.1M70.4 59.1h8M74.4 56.2v5.8M71.5 57.1l5.7 4.1M71.5 61.2l5.7 -4.1M70.8 58.8h8M74.8 55.9v5.8M72 56.8l5.7 4.1M72 60.9l5.7 -4.1M70.6 60.1h8M74.6 57.2v5.8M71.7 58.1l5.7 4.1M71.7 62.2l5.7 -4.1M71 59.7h8M75 56.8v5.8M72.2 57.7l5.7 4.1M72.2 61.8l5.7 -4.1M70.8 61h8M74.8 58.1v5.8M72 58.9l5.7 4.1M72 63l5.7 -4.1M70.5 60.9h8M74.5 58v5.8M71.7 58.8l5.7 4.1M71.7 62.9l5.7 -4.1M70.3 60.7h8M74.3 57.8v5.8M71.5 58.7l5.7 4.1M71.5 62.8l5.7 -4.1M70.8 61.7h8M74.8 58.8v5.8M71.9 59.7l5.7 4.1M71.9 63.8l5.7 -4.1M70.3 61.4h8M74.3 58.5v5.8M71.4 59.3l5.7 4.1M71.4 63.4l5.7 -4.1M70.3 62.4h8M74.3 59.5v5.8M71.4 60.4l5.7 4.1M71.4 64.5l5.7 -4.1M70.8 62.5h8M74.8 59.6v5.8M71.9 60.5l5.7 4.1M71.9 64.6l5.7 -4.1M70.8 63.5h8M74.8 60.6v5.8M72 61.4l5.7 4.1M72 65.5l5.7 -4.1M71.5 64.2h8M75.5 61.3v5.8M72.7 62.2l5.7 4.1M72.7 66.3l5.7 -4.1M71.8 64.1h8M75.8 61.2v5.8M72.9 62l5.7 4.1M72.9 66.2l5.7 -4.1M71.7 65.3h8M75.7 62.4v5.8M72.8 63.2l5.7 4.1M72.8 67.3l5.7 -4.1M72.2 65.8h8M76.2 62.9v5.8M73.4 63.8l5.7 4.1M73.4 67.9l5.7 -4.1M72.2 66.4h8M76.2 63.5v5.8M73.4 64.4l5.7 4.1M73.4 68.5l5.7 -4.1M72.6 66.9h8M76.6 64v5.8M73.8 64.9l5.7 4.1M73.8 69l5.7 -4.1M73.1 67h8M77.1 64.1v5.8M74.3 64.9l5.7 4.1M74.3 69l5.7 -4.1M72.5 67.9h8M76.5 65v5.8M73.7 65.8l5.7 4.1M73.7 69.9l5.7 -4.1M73 68.3h8M77 65.4v5.8M74.2 66.2l5.7 4.1M74.2 70.3l5.7 -4.1M72.9 67.9h8M76.9 65v5.8M74.1 65.9l5.7 4.1M74.1 70l5.7 -4.1M73.5 68.6h8M77.5 65.7v5.8M74.7 66.6l5.7 4.1M74.7 70.7l5.7 -4.1M73.2 69.1h8M77.2 66.2v5.8M74.4 67.1l5.7 4.1M74.4 71.2l5.7 -4.1M73.8 69.2h8M77.8 66.3v5.8M75 67.2l5.7 4.1M75 71.3l5.7 -4.1M74.1 70.3h8M78.1 67.4v5.8M75.3 68.2l5.7 4.1M75.3 72.3l5.7 -4.1M74.4 70.5h8M78.4 67.6v5.8M75.6 68.5l5.7 4.1M75.6 72.6l5.7 -4.1M74.9 71.8h8M78.9 68.9v5.8M76.1 69.8l5.7 4.1M76.1 73.9l5.7 -4.1M75.3 71.8h8M79.3 68.9v5.8M76.5 69.8l5.7 4.1M76.5 73.9l5.7 -4.1M75.4 72.4h8M79.4 69.5v5.8M76.6 70.3l5.7 4.1M76.6 74.4l5.7 -4.1M75.6 72.5h8M79.6 69.6v5.8M76.7 70.4l5.7 4.1M76.7 74.6l5.7 -4.1M75.7 73.9h8M79.7 71v5.8M76.9 71.8l5.7 4.1M76.9 75.9l5.7 -4.1M75.4 73.8h8M79.4 70.9v5.8M76.6 71.7l5.7 4.1M76.6 75.8l5.7 -4.1M75.4 74.1h8M79.4 71.2v5.8M76.5 72.1l5.7 4.1M76.5 76.2l5.7 -4.1M75 74.9h8M79 72v5.8M76.2 72.8l5.7 4.1M76.2 76.9l5.7 -4.1M75.2 74.4h8M79.2 71.5v5.8M76.3 72.3l5.7 4.1M76.3 76.4l5.7 -4.1M75.2 74.8h8M79.2 71.9v5.8M76.3 72.7l5.7 4.1M76.3 76.8l5.7 -4.1M75.9 74.9h8M79.9 72v5.8M77 72.9l5.7 4.1M77 77l5.7 -4.1M75.6 76.1h8M79.6 73.2v5.8M76.7 74l5.7 4.1M76.7 78.1l5.7 -4.1M75.9 75.8h8M79.9 72.9v5.8M77.1 73.7l5.7 4.1M77.1 77.8l5.7 -4.1M76.5 76.9h8M80.5 74v5.8M77.7 74.8l5.7 4.1M77.7 78.9l5.7 -4.1M76.8 77.5h8M80.8 74.6v5.8M78 75.4l5.7 4.1M78 79.5l5.7 -4.1M76.8 78.1h8M80.8 75.2v5.8M78 76l5.7 4.1M78 80.1l5.7 -4.1M77.5 77.7h8M81.5 74.8v5.8M78.7 75.6l5.7 4.1M78.7 79.7l5.7 -4.1M77.3 78.6h8M81.3 75.7v5.8M78.5 76.5l5.7 4.1M78.5 80.6l5.7 -4.1M77.8 78.8h8M81.8 75.9v5.8M79 76.7l5.7 4.1M79 80.8l5.7 -4.1M77.7 79.3h8M81.7 76.4v5.8M78.8 77.2l5.7 4.1M78.8 81.3l5.7 -4.1M77.8 79.8h8M81.8 76.9v5.8M79 77.8l5.7 4.1M79 81.9l5.7 -4.1M78.5 79.8h8M82.5 76.9v5.8M79.7 77.7l5.7 4.1M79.7 81.8l5.7 -4.1M78.5 80.8h8M82.5 77.9v5.8M79.7 78.7l5.7 4.1M79.7 82.8l5.7 -4.1M78.5 81.3h8M82.5 78.4v5.8M79.7 79.3l5.7 4.1M79.7 83.4l5.7 -4.1M79.4 81.4h8M83.4 78.5v5.8M80.6 79.3l5.7 4.1M80.6 83.4l5.7 -4.1M79.5 82.3h8M83.5 79.4v5.8M80.7 80.3l5.7 4.1M80.7 84.4l5.7 -4.1M80 82.5h8M84 79.6v5.8M81.2 80.4l5.7 4.1M81.2 84.5l5.7 -4.1M80.8 83.4h8M84.8 80.5v5.8M82 81.4l5.7 4.1M82 85.5l5.7 -4.1M80.9 83.5h8M84.9 80.6v5.8M82.1 81.4l5.7 4.1M82.1 85.5l5.7 -4.1M81.4 84.2h8M85.4 81.3v5.8M82.5 82.1l5.7 4.1M82.5 86.2l5.7 -4.1M82.2 85.1h8M86.2 82.2v5.8M83.4 83l5.7 4.1M83.4 87.1l5.7 -4.1M82.4 85.5h8M86.4 82.6v5.8M83.6 83.5l5.7 4.1M83.6 87.6l5.7 -4.1M82.6 85.2h8M86.6 82.3v5.8M83.8 83.2l5.7 4.1M83.8 87.3l5.7 -4.1M82.6 86.5h8M86.6 83.6v5.8M83.8 84.5l5.7 4.1M83.8 88.6l5.7 -4.1M83 86.2h8M87 83.3v5.8M84.2 84.2l5.7 4.1M84.2 88.3l5.7 -4.1M82.8 87h8M86.8 84.1v5.8M84 84.9l5.7 4.1M84 89l5.7 -4.1M83 87.2h8M87 84.3v5.8M84.1 85.2l5.7 4.1M84.1 89.3l5.7 -4.1M83 87.6h8M87 84.7v5.8M84.1 85.5l5.7 4.1M84.1 89.6l5.7 -4.1M83.5 87.6h8M87.5 84.7v5.8M84.7 85.6l5.7 4.1M84.7 89.7l5.7 -4.1M83.6 89h8M87.6 86.1v5.8M84.7 86.9l5.7 4.1M84.7 91l5.7 -4.1M84.3 89.4h8M88.3 86.5v5.8M85.5 87.3l5.7 4.1M85.5 91.4l5.7 -4.1M84.5 89.8h8M88.5 86.9v5.8M85.7 87.7l5.7 4.1M85.7 91.8l5.7 -4.1M85 90.3h8M89 87.4v5.8M86.2 88.2l5.7 4.1M86.2 92.3l5.7 -4.1M84.7 90.5h8M88.7 87.6v5.8M85.9 88.5l5.7 4.1M85.9 92.6l5.7 -4.1M85 90.9h8M89 88v5.8M86.2 88.9l5.7 4.1M86.2 93l5.7 -4.1M85.2 91.2h8M89.2 88.3v5.8M86.4 89.1l5.7 4.1M86.4 93.2l5.7 -4.1M85.7 91.6h8M89.7 88.7v5.8M86.9 89.6l5.7 4.1M86.9 93.7l5.7 -4.1M85.3 91.8h8M89.3 88.9v5.8M86.5 89.8l5.7 4.1M86.5 93.9l5.7 -4.1M85.5 92.6h8M89.5 89.7v5.8M86.7 90.5l5.7 4.1M86.7 94.6l5.7 -4.1M85.5 92.3h8M89.5 89.4v5.8M86.6 90.3l5.7 4.1M86.6 94.4l5.7 -4.1M85.8 92.5h8M89.8 89.6v5.8M87 90.5l5.7 4.1M87 94.6l5.7 -4.1M86 93.7h8M90 90.8v5.8M87.2 91.6l5.7 4.1M87.2 95.7l5.7 -4.1M86.2 93.5h8M90.2 90.6v5.8M87.4 91.5l5.7 4.1M87.4 95.6l5.7 -4.1M86.5 94.2h8M90.5 91.3v5.8M87.7 92.2l5.7 4.1M87.7 96.3l5.7 -4.1M86.7 94.4h8M90.7 91.5v5.8M87.9 92.3l5.7 4.1M87.9 96.4l5.7 -4.1M87.1 95h8M91.1 92.1v5.8M88.3 92.9l5.7 4.1M88.3 97l5.7 -4.1M87.7 95.5h8M91.7 92.6v5.8M88.9 93.4l5.7 4.1M88.9 97.5l5.7 -4.1M88 95.8h8M92 92.9v5.8M89.2 93.7l5.7 4.1M89.2 97.8l5.7 -4.1M88.6 96.9h8M92.6 94v5.8M89.7 94.8l5.7 4.1M89.7 98.9l5.7 -4.1M88.9 97.1h8M92.9 94.2v5.8M90.1 95l5.7 4.1M90.1 99.1l5.7 -4.1M89.2 97.2h8M93.2 94.3v5.8M90.4 95.1l5.7 4.1M90.4 99.2l5.7 -4.1M89.4 97.8h8M93.4 94.9v5.8M90.6 95.7l5.7 4.1M90.6 99.8l5.7 -4.1M89.6 98.3h8M93.6 95.4v5.8M90.7 96.2l5.7 4.1M90.7 100.3l5.7 -4.1M89.8 98.4h8M93.8 95.5v5.8M90.9 96.3l5.7 4.1M90.9 100.4l5.7 -4.1M89.9 98.7h8M93.9 95.8v5.8M91.1 96.7l5.7 4.1M91.1 100.8l5.7 -4.1M90.4 99.3h8M94.4 96.4v5.8M91.5 97.2l5.7 4.1M91.5 101.3l5.7 -4.1M90.8 99.4h8M94.8 96.5v5.8M91.9 97.4l5.7 4.1M91.9 101.5l5.7 -4.1M91 100.6h8M95 97.7v5.8M92.2 98.5l5.7 4.1M92.2 102.6l5.7 -4.1M91.3 100.8h8M95.3 97.9v5.8M92.5 98.8l5.7 4.1M92.5 102.9l5.7 -4.1M91.9 101.1h8M95.9 98.2v5.8M93.1 99l5.7 4.1M93.1 103.1l5.7 -4.1M92.5 101.5h8M96.5 98.6v5.8M93.7 99.5l5.7 4.1M93.7 103.6l5.7 -4.1M92.7 101.9h8M96.7 99v5.8M93.9 99.8l5.7 4.1M93.9 103.9l5.7 -4.1M92.6 102.8h8M96.6 99.9v5.8M93.7 100.8l5.7 4.1M93.7 104.9l5.7 -4.1M93 102.5h8M97 99.6v5.8M94.1 100.5l5.7 4.1M94.1 104.6l5.7 -4.1M93.1 103.2h8M97.1 100.3v5.8M94.2 101.1l5.7 4.1M94.2 105.2l5.7 -4.1M93.3 103.2h8M97.3 100.3v5.8M94.5 101.2l5.7 4.1M94.5 105.3l5.7 -4.1M93.1 104.2h8M97.1 101.3v5.8M94.3 102.2l5.7 4.1M94.3 106.3l5.7 -4.1M93.5 103.9h8M97.5 101v5.8M94.7 101.9l5.7 4.1M94.7 106l5.7 -4.1M93.5 104.4h8M97.5 101.5v5.8M94.6 102.4l5.7 4.1M94.6 106.5l5.7 -4.1M93.8 105h8M97.8 102.1v5.8M95 103l5.7 4.1M95 107.1l5.7 -4.1M94.2 105.6h8M98.2 102.7v5.8M95.4 103.5l5.7 4.1M95.4 107.6l5.7 -4.1M94.3 106h8M98.3 103.1v5.8M95.5 103.9l5.7 4.1M95.5 108l5.7 -4.1M94.8 106.4h8M98.8 103.5v5.8M95.9 104.4l5.7 4.1M95.9 108.5l5.7 -4.1M95 106.9h8M99 104v5.8M96.1 104.9l5.7 4.1M96.1 109l5.7 -4.1M95.4 107.5h8M99.4 104.6v5.8M96.6 105.4l5.7 4.1M96.6 109.5l5.7 -4.1M95.4 107.9h8M99.4 105v5.8M96.6 105.8l5.7 4.1M96.6 109.9l5.7 -4.1M95.6 108.2h8M99.6 105.3v5.8M96.8 106.2l5.7 4.1M96.8 110.3l5.7 -4.1M96.2 108.4h8M100.2 105.5v5.8M97.3 106.4l5.7 4.1M97.3 110.5l5.7 -4.1M96.6 108.9h8M100.6 106v5.8M97.7 106.8l5.7 4.1M97.7 110.9l5.7 -4.1M96.5 109.4h8M100.5 106.5v5.8M97.7 107.4l5.7 4.1M97.7 111.5l5.7 -4.1M96.9 109.7h8M100.9 106.8v5.8M98.1 107.7l5.7 4.1M98.1 111.8l5.7 -4.1M96.9 110h8M100.9 107.1v5.8M98.1 108l5.7 4.1M98.1 112.1l5.7 -4.1M97.3 110.6h8M101.3 107.7v5.8M98.5 108.6l5.7 4.1M98.5 112.7l5.7 -4.1M97.6 110.9h8M101.6 108v5.8M98.7 108.8l5.7 4.1M98.7 112.9l5.7 -4.1M98.1 111.4h8M102.1 108.5v5.8M99.3 109.3l5.7 4.1M99.3 113.4l5.7 -4.1M98.4 112.2h8M102.4 109.3v5.8M99.6 110.1l5.7 4.1M99.6 114.2l5.7 -4.1M99.1 112.5h8M103.1 109.6v5.8M100.3 110.4l5.7 4.1M100.3 114.5l5.7 -4.1M99.4 112.8h8M103.4 109.9v5.8M100.5 110.7l5.7 4.1M100.5 114.8l5.7 -4.1M99.7 113.3h8M103.7 110.4v5.8M100.9 111.2l5.7 4.1M100.9 115.3l5.7 -4.1M100.2 114h8M104.2 111.1v5.8M101.4 112l5.7 4.1M101.4 116.1l5.7 -4.1M100.3 114.7h8M104.3 111.8v5.8M101.5 112.7l5.7 4.1M101.5 116.8l5.7 -4.1M100.7 115h8M104.7 112.1v5.8M101.9 113l5.7 4.1M101.9 117.1l5.7 -4.1M101.2 115.5h8M105.2 112.6v5.8M102.4 113.4l5.7 4.1M102.4 117.5l5.7 -4.1M101.1 115.5h8M105.1 112.6v5.8M102.3 113.4l5.7 4.1M102.3 117.5l5.7 -4.1M101.7 115.5h8M105.7 112.6v5.8M102.9 113.5l5.7 4.1M102.9 117.6l5.7 -4.1M101.5 116.3h8M105.5 113.4v5.8M102.7 114.2l5.7 4.1M102.7 118.3l5.7 -4.1M102 116.9h8M106 114v5.8M103.1 114.8l5.7 4.1M103.1 118.9l5.7 -4.1M102.4 117h8M106.4 114.1v5.8M103.6 114.9l5.7 4.1M103.6 119l5.7 -4.1M102.8 117.4h8M106.8 114.5v5.8M104 115.3l5.7 4.1M104 119.4l5.7 -4.1M102.9 117.9h8M106.9 115v5.8M104.1 115.9l5.7 4.1M104.1 120l5.7 -4.1M103.2 118.1h8M107.2 115.2v5.8M104.4 116.1l5.7 4.1M104.4 120.2l5.7 -4.1M103.6 118.5h8M107.6 115.6v5.8M104.8 116.5l5.7 4.1M104.8 120.6l5.7 -4.1M104.1 119.2h8M108.1 116.3v5.8M105.3 117.1l5.7 4.1M105.3 121.2l5.7 -4.1M104.2 119.2h8M108.2 116.3v5.8M105.4 117.1l5.7 4.1M105.4 121.2l5.7 -4.1M104.3 119.7h8M108.3 116.8v5.8M105.5 117.7l5.7 4.1M105.5 121.8l5.7 -4.1M104.6 120.2h8M108.6 117.3v5.8M105.8 118.1l5.7 4.1M105.8 122.2l5.7 -4.1M104.9 120.7h8M108.9 117.8v5.8M106.1 118.7l5.7 4.1M106.1 122.8l5.7 -4.1M104.9 120.7h8M108.9 117.8v5.8M106.1 118.7l5.7 4.1M106.1 122.8l5.7 -4.1M105.2 121.4h8M109.2 118.5v5.8M106.3 119.4l5.7 4.1M106.3 123.5l5.7 -4.1M105.3 121.5h8M109.3 118.6v5.8M106.4 119.4l5.7 4.1M106.4 123.5l5.7 -4.1M105.7 121.6h8M109.7 118.7v5.8M106.9 119.6l5.7 4.1M106.9 123.7l5.7 -4.1M105.8 122.5h8M109.8 119.6v5.8M107 120.5l5.7 4.1M107 124.6l5.7 -4.1M106.5 122.7h8M110.5 119.8v5.8M107.6 120.6l5.7 4.1M107.6 124.7l5.7 -4.1M106.6 123.3h8M110.6 120.4v5.8M107.8 121.3l5.7 4.1M107.8 125.4l5.7 -4.1M107.3 123.7h8M111.3 120.8v5.8M108.5 121.6l5.7 4.1M108.5 125.7l5.7 -4.1M107.9 124.1h8M111.9 121.2v5.8M109.1 122.1l5.7 4.1M109.1 126.2l5.7 -4.1M108.1 124.1h8M112.1 121.2v5.8M109.3 122l5.7 4.1M109.3 126.1l5.7 -4.1M108.5 124.7h8M112.5 121.8v5.8M109.6 122.7l5.7 4.1M109.6 126.8l5.7 -4.1M108.9 124.9h8M112.9 122v5.8M110.1 122.8l5.7 4.1M110.1 126.9l5.7 -4.1M109.1 125.5h8M113.1 122.6v5.8M110.3 123.4l5.7 4.1M110.3 127.5l5.7 -4.1M109.6 125.6h8M113.6 122.7v5.8M110.8 123.6l5.7 4.1M110.8 127.7l5.7 -4.1M110.1 126.1h8M114.1 123.2v5.8M111.3 124.1l5.7 4.1M111.3 128.2l5.7 -4.1M110 126.3h8M114 123.4v5.8M111.2 124.3l5.7 4.1M111.2 128.4l5.7 -4.1M110.6 126.6h8M114.6 123.7v5.8M111.8 124.6l5.7 4.1M111.8 128.7l5.7 -4.1M111 126.8h8M115 123.9v5.8M112.1 124.7l5.7 4.1M112.1 128.8l5.7 -4.1M111.2 127.7h8M115.2 124.8v5.8M112.4 125.6l5.7 4.1M112.4 129.7l5.7 -4.1M111.7 128h8M115.7 125.1v5.8M112.9 125.9l5.7 4.1M112.9 130l5.7 -4.1M112 128.3h8M116 125.4v5.8M113.2 126.2l5.7 4.1M113.2 130.3l5.7 -4.1M112.6 128.5h8M116.6 125.6v5.8M113.7 126.5l5.7 4.1M113.7 130.6l5.7 -4.1M113 129h8M117 126.1v5.8M114.2 127l5.7 4.1M114.2 131.1l5.7 -4.1M113.5 129.4h8M117.5 126.5v5.8M114.7 127.4l5.7 4.1M114.7 131.5l5.7 -4.1M113.6 129.5h8M117.6 126.6v5.8M114.8 127.5l5.7 4.1M114.8 131.6l5.7 -4.1M113.8 130.2h8M117.8 127.3v5.8M115 128.1l5.7 4.1M115 132.2l5.7 -4.1M114 130.1h8M118 127.2v5.8M115.2 128l5.7 4.1M115.2 132.1l5.7 -4.1M114.3 130.6h8M118.3 127.7v5.8M115.5 128.5l5.7 4.1M115.5 132.6l5.7 -4.1M114.8 130.9h8M118.8 128v5.8M116 128.8l5.7 4.1M116 132.9l5.7 -4.1M115.1 130.8h8M119.1 127.9v5.8M116.2 128.8l5.7 4.1M116.2 132.9l5.7 -4.1M115.1 131.5h8M119.1 128.6v5.8M116.2 129.4l5.7 4.1M116.2 133.5l5.7 -4.1M115.5 131.8h8M119.5 128.9v5.8M116.7 129.7l5.7 4.1M116.7 133.8l5.7 -4.1M115.9 131.8h8M119.9 128.9v5.8M117.1 129.7l5.7 4.1M117.1 133.8l5.7 -4.1M116.3 132.1h8M120.3 129.2v5.8M117.5 130l5.7 4.1M117.5 134.1l5.7 -4.1M117 132.7h8M121 129.8v5.8M118.1 130.6l5.7 4.1M118.1 134.7l5.7 -4.1M117.2 133h8M121.2 130.1v5.8M118.4 130.9l5.7 4.1M118.4 135l5.7 -4.1M117.7 133.1h8M121.7 130.2v5.8M118.8 131.1l5.7 4.1M118.8 135.2l5.7 -4.1M118.3 133.8h8M122.3 130.9v5.8M119.5 131.7l5.7 4.1M119.5 135.8l5.7 -4.1M118.7 134h8M122.7 131.1v5.8M119.9 132l5.7 4.1M119.9 136.1l5.7 -4.1M119 134.2h8M123 131.3v5.8M120.1 132.2l5.7 4.1M120.1 136.3l5.7 -4.1M119.1 134.9h8M123.1 132v5.8M120.3 132.8l5.7 4.1M120.3 137l5.7 -4.1M119.8 134.9h8M123.8 132v5.8M120.9 132.8l5.7 4.1M120.9 136.9l5.7 -4.1M120.1 135.4h8M124.1 132.5v5.8M121.3 133.4l5.7 4.1M121.3 137.5l5.7 -4.1M120.3 135.6h8M124.3 132.7v5.8M121.5 133.6l5.7 4.1M121.5 137.7l5.7 -4.1M120.9 135.9h8M124.9 133v5.8M122.1 133.9l5.7 4.1M122.1 138l5.7 -4.1M121.4 136.1h8M125.4 133.2v5.8M122.6 134.1l5.7 4.1M122.6 138.2l5.7 -4.1M121.7 136.8h8M125.7 133.9v5.8M122.8 134.7l5.7 4.1M122.8 138.8l5.7 -4.1M122.1 136.9h8M126.1 134v5.8M123.3 134.9l5.7 4.1M123.3 139l5.7 -4.1M122.9 137.4h8M126.9 134.5v5.8M124.1 135.3l5.7 4.1M124.1 139.4l5.7 -4.1M123.4 137.6h8M127.4 134.7v5.8M124.6 135.6l5.7 4.1M124.6 139.7l5.7 -4.1M123.7 138h8M127.7 135.1v5.8M124.8 136l5.7 4.1M124.8 140.1l5.7 -4.1M124.1 138.7h8M128.1 135.8v5.8M125.3 136.6l5.7 4.1M125.3 140.7l5.7 -4.1M124.6 138.8h8M128.6 135.9v5.8M125.8 136.7l5.7 4.1M125.8 140.8l5.7 -4.1M124.9 139h8M128.9 136.1v5.8M126.1 137l5.7 4.1M126.1 141.1l5.7 -4.1M125.4 139.2h8M129.4 136.3v5.8M126.6 137.2l5.7 4.1M126.6 141.3l5.7 -4.1M125.6 139.3h8M129.6 136.4v5.8M126.8 137.3l5.7 4.1M126.8 141.4l5.7 -4.1M126.2 139.7h8M130.2 136.8v5.8M127.4 137.7l5.7 4.1M127.4 141.8l5.7 -4.1M126.3 139.9h8M130.3 137v5.8M127.5 137.8l5.7 4.1M127.5 141.9l5.7 -4.1M126.7 140.2h8M130.7 137.3v5.8M127.9 138.1l5.7 4.1M127.9 142.2l5.7 -4.1M127 140.7h8M131 137.8v5.8M128.2 138.6l5.7 4.1M128.2 142.7l5.7 -4.1M127.5 140.7h8M131.5 137.8v5.8M128.7 138.7l5.7 4.1M128.7 142.8l5.7 -4.1M128.1 141h8M132.1 138.1v5.8M129.2 138.9l5.7 4.1M129.2 143l5.7 -4.1M128.3 141.7h8M132.3 138.8v5.8M129.5 139.6l5.7 4.1M129.5 143.7l5.7 -4.1M128.7 141.8h8M132.7 138.9v5.8M129.9 139.7l5.7 4.1M129.9 143.8l5.7 -4.1M129.4 142.2h8M133.4 139.3v5.8M130.5 140.2l5.7 4.1M130.5 144.3l5.7 -4.1M129.5 142.3h8M133.5 139.4v5.8M130.7 140.3l5.7 4.1M130.7 144.4l5.7 -4.1M130.1 142.6h8M134.1 139.7v5.8M131.3 140.5l5.7 4.1M131.3 144.6l5.7 -4.1M130.5 142.7h8M134.5 139.8v5.8M131.7 140.7l5.7 4.1M131.7 144.8l5.7 -4.1M130.8 143.1h8M134.8 140.2v5.8M132 141l5.7 4.1M132 145.1l5.7 -4.1M130.9 143.3h8M134.9 140.4v5.8M132.1 141.2l5.7 4.1M132.1 145.3l5.7 -4.1M131.2 143.6h8M135.2 140.7v5.8M132.4 141.6l5.7 4.1M132.4 145.7l5.7 -4.1M131.6 144h8M135.6 141.1v5.8M132.8 141.9l5.7 4.1M132.8 146l5.7 -4.1M132.2 144h8M136.2 141.1v5.8M133.3 141.9l5.7 4.1M133.3 146l5.7 -4.1M132.5 144.4h8M136.5 141.5v5.8M133.6 142.3l5.7 4.1M133.6 146.4l5.7 -4.1M132.9 144.8h8M136.9 141.9v5.8M134.1 142.7l5.7 4.1M134.1 146.8l5.7 -4.1M133.4 144.9h8M137.4 142v5.8M134.6 142.9l5.7 4.1M134.6 147l5.7 -4.1M134.1 145.1h8M138.1 142.2v5.8M135.2 143.1l5.7 4.1M135.2 147.2l5.7 -4.1M134.6 145.5h8M138.6 142.6v5.8M135.8 143.5l5.7 4.1M135.8 147.6l5.7 -4.1M135.1 145.9h8M139.1 143v5.8M136.3 143.9l5.7 4.1M136.3 148l5.7 -4.1M135.4 146.1h8M139.4 143.2v5.8M136.6 144.1l5.7 4.1M136.6 148.2l5.7 -4.1M135.8 146.3h8M139.8 143.4v5.8M137 144.3l5.7 4.1M137 148.4l5.7 -4.1M136.5 146.7h8M140.5 143.8v5.8M137.6 144.6l5.7 4.1M137.6 148.7l5.7 -4.1M136.8 146.8h8M140.8 143.9v5.8M138 144.8l5.7 4.1M138 148.9l5.7 -4.1M137.1 147.2h8M141.1 144.3v5.8M138.3 145.1l5.7 4.1M138.3 149.2l5.7 -4.1M137.5 147.4h8M141.5 144.5v5.8M138.7 145.3l5.7 4.1M138.7 149.4l5.7 -4.1M137.8 147.6h8M141.8 144.7v5.8M139 145.5l5.7 4.1M139 149.6l5.7 -4.1M138.3 147.7h8M142.3 144.8v5.8M139.5 145.7l5.7 4.1M139.5 149.8l5.7 -4.1M138.9 148.1h8M142.9 145.2v5.8M140.1 146l5.7 4.1M140.1 150.1l5.7 -4.1M139.3 148.6h8M143.3 145.7v5.8M140.5 146.5l5.7 4.1M140.5 150.7l5.7 -4.1M139.9 148.8h8M143.9 145.9v5.8M141.1 146.8l5.7 4.1M141.1 150.9l5.7 -4.1M140.4 148.8h8M144.4 145.9v5.8M141.6 146.7l5.7 4.1M141.6 150.8l5.7 -4.1M140.7 149h8M144.7 146.1v5.8M141.9 146.9l5.7 4.1M141.9 151l5.7 -4.1M141.3 149.5h8M145.3 146.6v5.8M142.4 147.4l5.7 4.1M142.4 151.5l5.7 -4.1M141.6 149.6h8M145.6 146.7v5.8M142.8 147.6l5.7 4.1M142.8 151.7l5.7 -4.1M142.1 149.9h8M146.1 147v5.8M143.3 147.9l5.7 4.1M143.3 152l5.7 -4.1M142.3 150.2h8M146.3 147.3v5.8M143.5 148.1l5.7 4.1M143.5 152.2l5.7 -4.1M142.7 150.3h8M146.7 147.4v5.8M143.9 148.2l5.7 4.1M143.9 152.3l5.7 -4.1M143 150.2h8M147 147.3v5.8M144.2 148.2l5.7 4.1M144.2 152.3l5.7 -4.1M143.6 150.7h8M147.6 147.8v5.8M144.8 148.6l5.7 4.1M144.8 152.7l5.7 -4.1M143.9 150.6h8M147.9 147.7v5.8M145.1 148.5l5.7 4.1M145.1 152.6l5.7 -4.1M144.1 150.8h8M148.1 147.9v5.8M145.3 148.8l5.7 4.1M145.3 152.9l5.7 -4.1M144.6 151.1h8M148.6 148.2v5.8M145.8 149.1l5.7 4.1M145.8 153.2l5.7 -4.1M145.1 151.3h8M149.1 148.4v5.8M146.3 149.2l5.7 4.1M146.3 153.3l5.7 -4.1M145.6 151.8h8M149.6 148.9v5.8M146.8 149.7l5.7 4.1M146.8 153.8l5.7 -4.1M146.1 152.1h8M150.1 149.2v5.8M147.3 150l5.7 4.1M147.3 154.1l5.7 -4.1M146.7 152.3h8M150.7 149.4v5.8M147.9 150.2l5.7 4.1M147.9 154.3l5.7 -4.1M147.1 152.4h8M151.1 149.5v5.8M148.3 150.3l5.7 4.1M148.3 154.4l5.7 -4.1M147.7 152.6h8M151.7 149.7v5.8M148.9 150.5l5.7 4.1M148.9 154.6l5.7 -4.1M148 153h8M152 150.1v5.8M149.2 151l5.7 4.1M149.2 155.1l5.7 -4.1M148.7 153h8M152.7 150.1v5.8M149.8 150.9l5.7 4.1M149.8 155l5.7 -4.1M148.9 153.4h8M152.9 150.5v5.8M150.1 151.4l5.7 4.1M150.1 155.5l5.7 -4.1M149.5 153.3h8M153.5 150.4v5.8M150.7 151.2l5.7 4.1M150.7 155.3l5.7 -4.1M149.8 153.5h8M153.8 150.6v5.8M151 151.5l5.7 4.1M151 155.6l5.7 -4.1M150.5 153.8h8M154.5 150.9v5.8M151.6 151.7l5.7 4.1M151.6 155.8l5.7 -4.1M151 154.2h8M155 151.3v5.8M152.2 152.2l5.7 4.1M152.2 156.3l5.7 -4.1M151.3 154.5h8M155.3 151.6v5.8M152.4 152.4l5.7 4.1M152.4 156.5l5.7 -4.1M151.9 154.7h8M155.9 151.8v5.8M153.1 152.7l5.7 4.1M153.1 156.8l5.7 -4.1M152.6 154.8h8M156.6 151.9v5.8M153.7 152.8l5.7 4.1M153.7 156.9l5.7 -4.1M152.9 155.3h8M156.9 152.4v5.8M154.1 153.3l5.7 4.1M154.1 157.4l5.7 -4.1M153.5 155.5h8M157.5 152.6v5.8M154.7 153.5l5.7 4.1M154.7 157.6l5.7 -4.1M154.1 155.7h8M158.1 152.8v5.8M155.3 153.6l5.7 4.1M155.3 157.7l5.7 -4.1M154.6 155.8h8M158.6 152.9v5.8M155.8 153.7l5.7 4.1M155.8 157.8l5.7 -4.1M155 155.7h8M159 152.8v5.8M156.1 153.7l5.7 4.1M156.1 157.8l5.7 -4.1M155.5 156h8M159.5 153.1v5.8M156.6 154l5.7 4.1M156.6 158.1l5.7 -4.1M155.8 156.4h8M159.8 153.5v5.8M157 154.3l5.7 4.1M157 158.4l5.7 -4.1M156.1 156.5h8M160.1 153.6v5.8M157.3 154.4l5.7 4.1M157.3 158.5l5.7 -4.1M156.5 156.6h8M160.5 153.7v5.8M157.7 154.5l5.7 4.1M157.7 158.6l5.7 -4.1M157.1 156.6h8M161.1 153.7v5.8M158.3 154.5l5.7 4.1M158.3 158.6l5.7 -4.1M157.5 157h8M161.5 154.1v5.8M158.7 155l5.7 4.1M158.7 159.1l5.7 -4.1M158 157h8M162 154.1v5.8M159.1 155l5.7 4.1M159.1 159.1l5.7 -4.1M158.3 157h8M162.3 154.1v5.8M159.5 155l5.7 4.1M159.5 159.1l5.7 -4.1M158.9 157.3h8M162.9 154.4v5.8M160 155.3l5.7 4.1M160 159.4l5.7 -4.1M159.3 157.5h8M163.3 154.6v5.8M160.5 155.4l5.7 4.1M160.5 159.5l5.7 -4.1M159.7 157.8h8M163.7 154.9v5.8M160.9 155.8l5.7 4.1M160.9 159.9l5.7 -4.1M160.4 157.8h8M164.4 154.9v5.8M161.5 155.8l5.7 4.1M161.5 159.9l5.7 -4.1M160.7 158.1h8M164.7 155.2v5.8M161.9 156l5.7 4.1M161.9 160.1l5.7 -4.1M161.2 158.4h8M165.2 155.5v5.8M162.3 156.3l5.7 4.1M162.3 160.4l5.7 -4.1M161.6 158.2h8M165.6 155.3v5.8M162.7 156.2l5.7 4.1M162.7 160.3l5.7 -4.1M162.1 158.3h8M166.1 155.4v5.8M163.3 156.3l5.7 4.1M163.3 160.4l5.7 -4.1M162.5 158.5h8M166.5 155.6v5.8M163.6 156.5l5.7 4.1M163.6 160.6l5.7 -4.1M163 158.7h8M167 155.8v5.8M164.1 156.7l5.7 4.1M164.1 160.8l5.7 -4.1M163.4 158.7h8M167.4 155.8v5.8M164.6 156.7l5.7 4.1M164.6 160.8l5.7 -4.1M163.9 159.1h8M167.9 156.2v5.8M165.1 157l5.7 4.1M165.1 161.1l5.7 -4.1M164.3 159.3h8M168.3 156.4v5.8M165.5 157.3l5.7 4.1M165.5 161.4l5.7 -4.1M165 159.3h8M169 156.4v5.8M166.1 157.2l5.7 4.1M166.1 161.3l5.7 -4.1M165.4 159.6h8M169.4 156.7v5.8M166.5 157.5l5.7 4.1M166.5 161.6l5.7 -4.1M165.9 159.6h8M169.9 156.7v5.8M167.1 157.6l5.7 4.1M167.1 161.7l5.7 -4.1M166.4 159.9h8M170.4 157v5.8M167.6 157.8l5.7 4.1M167.6 161.9l5.7 -4.1M167.1 160.2h8M171.1 157.3v5.8M168.2 158.1l5.7 4.1M168.2 162.2l5.7 -4.1M167.4 160.3h8M171.4 157.4v5.8M168.6 158.2l5.7 4.1M168.6 162.3l5.7 -4.1M168 160.5h8M172 157.6v5.8M169.1 158.4l5.7 4.1M169.1 162.5l5.7 -4.1M168.3 160.5h8M172.3 157.6v5.8M169.5 158.4l5.7 4.1M169.5 162.5l5.7 -4.1M168.7 161h8M172.7 158.1v5.8M169.9 158.9l5.7 4.1M169.9 163l5.7 -4.1M169.4 160.8h8M173.4 157.9v5.8M170.5 158.7l5.7 4.1M170.5 162.8l5.7 -4.1M169.8 161.3h8M173.8 158.4v5.8M171 159.2l5.7 4.1M171 163.3l5.7 -4.1M170.2 161.1h8M174.2 158.2v5.8M171.4 159l5.7 4.1M171.4 163.1l5.7 -4.1M170.7 161.4h8M174.7 158.5v5.8M171.9 159.3l5.7 4.1M171.9 163.4l5.7 -4.1M171.1 161.6h8M175.1 158.7v5.8M172.3 159.5l5.7 4.1M172.3 163.6l5.7 -4.1M171.6 161.9h8M175.6 159v5.8M172.7 159.8l5.7 4.1M172.7 163.9l5.7 -4.1M172.3 161.9h8M176.3 159v5.8M173.4 159.9l5.7 4.1M173.4 164l5.7 -4.1M172.8 162.1h8M176.8 159.2v5.8M174 160.1l5.7 4.1M174 164.2l5.7 -4.1M173.1 162.1h8M177.1 159.2v5.8M174.3 160.1l5.7 4.1M174.3 164.2l5.7 -4.1M173.6 162.2h8M177.6 159.3v5.8M174.7 160.1l5.7 4.1M174.7 164.2l5.7 -4.1M174.2 162.6h8M178.2 159.7v5.8M175.3 160.6l5.7 4.1M175.3 164.7l5.7 -4.1M174.5 162.5h8M178.5 159.6v5.8M175.6 160.4l5.7 4.1M175.6 164.5l5.7 -4.1M175 162.9h8M179 160v5.8M176.1 160.8l5.7 4.1M176.1 164.9l5.7 -4.1M175.4 162.7h8M179.4 159.8v5.8M176.6 160.7l5.7 4.1M176.6 164.8l5.7 -4.1M175.8 163.1h8M179.8 160.2v5.8M177 161.1l5.7 4.1M177 165.2l5.7 -4.1M176.2 163h8M180.2 160.1v5.8M177.4 161l5.7 4.1M177.4 165.1l5.7 -4.1M176.5 163.4h8M180.5 160.5v5.8M177.7 161.3l5.7 4.1M177.7 165.4l5.7 -4.1" stroke="#00f" stroke-width="0.9"/>
<path d="M68.1 48.5 L69.5 237.3 L71.4 242.5 L73.7 243.6 L75.8 244.2 L77.6 244.5 L80.7 244.7 L82.6 245 L83.8 245.4 L86.6 245.8 L88.6 246.8 L90.5 247.2 L92.3 247.6 L94.2 248 L96.6 249.1 L98.5 249.4 L100.3 249.7 L102.1 249.9 L104 250.1 L105.8 250.2 L107.9 251.1 L109.6 251.1 L111.4 251.2 L113.1 251.3 L114.8 251.3 L116.6 251.4 L118.3 251.5 L120.1 251.5 L121.8 251.6 L122.9 252.4 L124.5 252.4 L126.1 252.4 L127.7 252.4 L129.3 252.4 L130.2 253.3 L131.9 253.3 L133.7 253.3 L135.4 253.3 L137.2 253.2 L138.9 253.2 L140.6 253.2 L142.4 253.2 L144.1 253.2 L145.9 253.1 L147.6 253.1 L149.3 254.2 L151 254.2 L152.7 254.2 L154.5 254.2 L156.2 254.2 L157.9 254.2 L159.6 254.2 L161.3 254.2 L163 254.2 L164.8 254.2 L166.5 254.2 L168.2 254.2 L169.9 254.2 L171.6 254.2 L173.4 254.2 L175.1 254.2 L176.8 254.2 L178.5 254.2 L180.2 254.2 L182 254.2 L183.7 254.2 L185.4 254.2 L187.1 254.2 L188.8 254.2 L190.5 254.2 L192.3 254.2 L194 254.2 L195.7 254.2 L197.4 254.2 L199.1 254.2 L200.9 254.2 L202.6 254.2 L204.3 254.1 L206 254.1 L207.7 254.1 L209.4 254.1 L211.2 254.1 L212.9 254.1 L214.6 254.1" stroke="#000" stroke-width="0.75"/>
<path d="M64.1 48.5h8M68.1 45.6v5.7M65.5 237.3h8M69.5 234.5v5.7M67.4 242.5h8M71.4 239.6v5.7M69.7 243.6h8M73.7 240.8v5.7M71.8 244.2h8M75.8 241.3v5.7M73.6 244.5h8M77.6 241.6v5.7M76.7 244.7h8M80.7 241.9v5.7M78.6 245h8M82.6 242.1v5.7M79.8 245.4h8M83.8 242.6v5.7M82.6 245.8h8M86.6 243v5.7M84.6 246.8h8M88.6 243.9v5.7M86.5 247.2h8M90.5 244.4v5.7M88.3 247.6h8M92.3 244.8v5.7M90.2 248h8M94.2 245.1v5.7M92.6 249.1h8M96.6 246.3v5.7M94.5 249.4h8M98.5 246.6v5.7M96.3 249.7h8M100.3 246.8v5.7M98.1 249.9h8M102.1 247v5.7M100 250.1h8M104 247.2v5.7M101.8 250.2h8M105.8 247.3v5.7M103.9 251.1h8M107.9 248.2v5.7M105.6 251.1h8M109.6 248.3v5.7M107.4 251.2h8M111.4 248.4v5.7M109.1 251.3h8M113.1 248.4v5.7M110.8 251.3h8M114.8 248.5v5.7M112.6 251.4h8M116.6 248.6v5.7M114.3 251.5h8M118.3 248.6v5.7M116.1 251.5h8M120.1 248.7v5.7M117.8 251.6h8M121.8 248.8v5.7M118.9 252.4h8M122.9 249.5v5.7M120.5 252.4h8M124.5 249.5v5.7M122.1 252.4h8M126.1 249.5v5.7M123.7 252.4h8M127.7 249.5v5.7M125.3 252.4h8M129.3 249.5v5.7M126.2 253.3h8M130.2 250.5v5.7M127.9 253.3h8M131.9 250.4v5.7M129.7 253.3h8M133.7 250.4v5.7M131.4 253.3h8M135.4 250.4v5.7M133.2 253.2h8M137.2 250.4v5.7M134.9 253.2h8M138.9 250.4v5.7M136.6 253.2h8M140.6 250.3v5.7M138.4 253.2h8M142.4 250.3v5.7M140.1 253.2h8M144.1 250.3v5.7M141.9 253.1h8M145.9 250.3v5.7M143.6 253.1h8M147.6 250.3v5.7M145.3 254.2h8M149.3 251.4v5.7M147 254.2h8M151 251.4v5.7M148.7 254.2h8M152.7 251.4v5.7M150.5 254.2h8M154.5 251.4v5.7M152.2 254.2h8M156.2 251.4v5.7M153.9 254.2h8M157.9 251.3v5.7M155.6 254.2h8M159.6 251.3v5.7M157.3 254.2h8M161.3 251.3v5.7M159 254.2h8M163 251.3v5.7M160.8 254.2h8M164.8 251.3v5.7M162.5 254.2h8M166.5 251.3v5.7M164.2 254.2h8M168.2 251.3v5.7M165.9 254.2h8M169.9 251.3v5.7M167.6 254.2h8M171.6 251.3v5.7M169.4 254.2h8M173.4 251.3v5.7M171.1 254.2h8M175.1 251.3v5.7M172.8 254.2h8M176.8 251.3v5.7M174.5 254.2h8M178.5 251.3v5.7M176.2 254.2h8M180.2 251.3v5.7M178 254.2h8M182 251.3v5.7M179.7 254.2h8M183.7 251.3v5.7M181.4 254.2h8M185.4 251.3v5.7M183.1 254.2h8M187.1 251.3v5.7M184.8 254.2h8M188.8 251.3v5.7M186.5 254.2h8M190.5 251.3v5.7M188.3 254.2h8M192.3 251.3v5.7M190 254.2h8M194 251.3v5.7M191.7 254.2h8M195.7 251.3v5.7M193.4 254.2h8M197.4 251.3v5.7M195.1 254.2h8M199.1 251.3v5.7M196.9 254.2h8M200.9 251.3v5.7M198.6 254.2h8M202.6 251.3v5.7M200.3 254.1h8M204.3 251.3v5.7M202 254.1h8M206 251.3v5.7M203.7 254.1h8M207.7 251.3v5.7M205.4 254.1h8M209.4 251.3v5.7M207.2 254.1h8M211.2 251.3v5.7M208.9 254.1h8M212.9 251.3v5.7M210.6 254.1h8M214.6 251.3v5.7" stroke="#000" stroke-width="0.72"/>
</g>
<rect x="127.1" y="29.4" width="94.7" height="47.5" fill="#fff" stroke="#000" stroke-width="1"/><path d="M134.9 36.4H176.2" stroke="#0f0" stroke-width="0.8" stroke-dasharray="8.3 8.15" fill="none"/><text transform="translate(180.4 39.7) scale(1.43 1)" text-anchor="start" font-size="9.5">PSSV</text><path d="M134.9 47.4H176.2" stroke="#f00" stroke-width="0.8" fill="none"/><text transform="translate(180.4 50.7) scale(1.43 1)" text-anchor="start" font-size="9.5">SSV</text><path d="M134.9 58.6H176.2" stroke="#00f" stroke-width="0.8" fill="none"/><text transform="translate(180.4 61.9) scale(1.43 1)" text-anchor="start" font-size="9.5">SV</text><path d="M134.9 69.3H176.2" stroke="#000" stroke-width="0.8" fill="none"/><text transform="translate(180.4 72.6) scale(1.43 1)" text-anchor="start" font-size="9.5">V</text><ellipse cx="155.6" cy="36.4" rx="4.1" ry="2.8" fill="none" stroke="#0f0" stroke-width="1"/><ellipse cx="155.6" cy="47.4" rx="1.6" ry="1.05" fill="#f00"/><path d="M151.6 58.6h8M155.6 55.7v5.8M152.7 56.5l5.7 4.1M152.7 60.7l5.7 -4.1" stroke="#00f" stroke-width="0.9" fill="none"/><path d="M151.6 69.3h8M155.6 66.5v5.7" stroke="#000" stroke-width="0.8" fill="none"/>
<rect x="282.1" y="24.5" width="162.4" height="266.1" fill="#fff" stroke="#000" stroke-width="1"/><text transform="translate(282.1 302.2) scale(1.43 1)" text-anchor="middle" font-size="9.5">0</text><text transform="translate(336.2 302.2) scale(1.43 1)" text-anchor="middle" font-size="9.5">20</text><text transform="translate(390.4 302.2) scale(1.43 1)" text-anchor="middle" font-size="9.5">40</text><text transform="translate(444.5 302.2) scale(1.43 1)" text-anchor="middle" font-size="9.5">60</text><text transform="translate(277.9 293.9) scale(1.43 1)" text-anchor="end" font-size="9.5">4.5</text><text transform="translate(277.9 255.9) scale(1.43 1)" text-anchor="end" font-size="9.5">5</text><text transform="translate(277.9 217.9) scale(1.43 1)" text-anchor="end" font-size="9.5">5.5</text><text transform="translate(277.9 179.9) scale(1.43 1)" text-anchor="end" font-size="9.5">6</text><text transform="translate(277.9 141.9) scale(1.43 1)" text-anchor="end" font-size="9.5">6.5</text><text transform="translate(277.9 103.9) scale(1.43 1)" text-anchor="end" font-size="9.5">7</text><text transform="translate(277.9 65.9) scale(1.43 1)" text-anchor="end" font-size="9.5">7.5</text><text transform="translate(277.9 27.9) scale(1.43 1)" text-anchor="end" font-size="9.5">8</text><path d="M336.2 290.6v-2.7M336.2 24.5v2.7M390.4 290.6v-2.7M390.4 24.5v2.7M282.1 252.6h2.7M444.5 252.6h-2.7M282.1 214.6h2.7M444.5 214.6h-2.7M282.1 176.6h2.7M444.5 176.6h-2.7M282.1 138.6h2.7M444.5 138.6h-2.7M282.1 100.6h2.7M444.5 100.6h-2.7M282.1 62.6h2.7M444.5 62.6h-2.7M282.1 24.6h2.7M444.5 24.6h-2.7" stroke="#000" stroke-width="1" fill="none"/><text transform="translate(362.8 313) scale(1.43 1)" text-anchor="middle" font-size="9.5">Time in minutes</text><text transform="translate(250.1 157.9) scale(1.52 1) rotate(-90)" text-anchor="middle" font-size="9.1">Negative Log Likelihood</text><text transform="translate(282.2 20.9) scale(1.43 1)" text-anchor="start" font-size="9.5">x</text><g transform="translate(292.9 20.9) scale(1.33 1)"><path transform="translate(0.00 0) scale(0.00464 -0.00464)" d="M515 0V1237L197 1010V1180L530 1409H696V0Z"/><text x="5.28" font-size="9.5">0</text></g><text transform="translate(307.8 15.8) scale(1.15 1)" text-anchor="start" font-size="6.8">4</text>
<g clip-path="url(#c2)" fill="none">
<path d="M293.5 24.5 L293.8 46 L295.2 56 L298 77 L298.2 91 L299.8 100 L299.4 114.9 L299.2 119 L300.8 138.6 L301.4 143 L304 158 L306.8 172.8 L309.2 183 L312.4 198.5 L314.6 204 L318 213.5 L322.1 222.8 L328 232.2 L335 239.8 L344.3 246 L352 250.2 L358.5 252.4 L360.6 252.8" stroke="#0f0" stroke-width="1" stroke-dasharray="5.5 4.8" stroke-dashoffset="-0.5"/>
<g stroke="#0f0" stroke-width="1.15"><ellipse cx="293.4" cy="33.8" rx="4.1" ry="2.8"/><ellipse cx="293.5" cy="35.6" rx="4.1" ry="2.8"/><ellipse cx="293.4" cy="37.1" rx="4.1" ry="2.8"/><ellipse cx="293.6" cy="38.6" rx="4.1" ry="2.8"/><ellipse cx="293.5" cy="40.4" rx="4.1" ry="2.8"/><ellipse cx="293.6" cy="41.9" rx="4.1" ry="2.8"/><ellipse cx="295.1" cy="56.2" rx="4.1" ry="2.8"/><ellipse cx="295.5" cy="57.7" rx="4.1" ry="2.8"/><ellipse cx="295.9" cy="59.2" rx="4.1" ry="2.8"/><ellipse cx="296" cy="61" rx="4.1" ry="2.8"/><ellipse cx="296" cy="62.5" rx="4.1" ry="2.8"/><ellipse cx="296.2" cy="64" rx="4.1" ry="2.8"/><ellipse cx="296.6" cy="66" rx="4.1" ry="2.8"/><ellipse cx="296.7" cy="68.1" rx="4.1" ry="2.8"/><ellipse cx="297" cy="70.2" rx="4.1" ry="2.8"/><ellipse cx="297" cy="71.7" rx="4.1" ry="2.8"/><ellipse cx="297.4" cy="73.2" rx="4.1" ry="2.8"/><ellipse cx="298" cy="75.3" rx="4.1" ry="2.8"/><ellipse cx="298" cy="91.2" rx="4.1" ry="2.8"/><ellipse cx="298.5" cy="92.6" rx="4.1" ry="2.8"/><ellipse cx="298.8" cy="93.8" rx="4.1" ry="2.8"/><ellipse cx="299.2" cy="95.6" rx="4.1" ry="2.8"/><ellipse cx="299.2" cy="97.7" rx="4.1" ry="2.8"/><ellipse cx="299.5" cy="99.1" rx="4.1" ry="2.8"/><ellipse cx="299.6" cy="100.6" rx="4.1" ry="2.8"/><ellipse cx="299.3" cy="115" rx="4.1" ry="2.8"/><ellipse cx="299.3" cy="116.5" rx="4.1" ry="2.8"/><ellipse cx="299.5" cy="118" rx="4.1" ry="2.8"/><ellipse cx="299.5" cy="119.8" rx="4.1" ry="2.8"/><ellipse cx="301.2" cy="138.5" rx="4.1" ry="2.8"/><ellipse cx="300.5" cy="140.2" rx="4.1" ry="2.8"/><ellipse cx="301.7" cy="141.9" rx="4.1" ry="2.8"/><ellipse cx="301.6" cy="143.2" rx="4.1" ry="2.8"/><ellipse cx="301.7" cy="145.4" rx="4.1" ry="2.8"/><ellipse cx="302.3" cy="146.6" rx="4.1" ry="2.8"/><ellipse cx="302.7" cy="147.4" rx="4.1" ry="2.8"/><ellipse cx="302.1" cy="148.8" rx="4.1" ry="2.8"/><ellipse cx="302.7" cy="150.7" rx="4.1" ry="2.8"/><ellipse cx="303.5" cy="152.5" rx="4.1" ry="2.8"/><ellipse cx="303.4" cy="153.7" rx="4.1" ry="2.8"/><ellipse cx="303.4" cy="155" rx="4.1" ry="2.8"/><ellipse cx="303.3" cy="157" rx="4.1" ry="2.8"/><ellipse cx="303.7" cy="158.3" rx="4.1" ry="2.8"/><ellipse cx="304.4" cy="159.2" rx="4.1" ry="2.8"/><ellipse cx="304.2" cy="160.6" rx="4.1" ry="2.8"/><ellipse cx="305" cy="162.6" rx="4.1" ry="2.8"/><ellipse cx="304.7" cy="163.4" rx="4.1" ry="2.8"/><ellipse cx="305.4" cy="165.4" rx="4.1" ry="2.8"/><ellipse cx="305.6" cy="166.4" rx="4.1" ry="2.8"/><ellipse cx="306" cy="167.6" rx="4.1" ry="2.8"/><ellipse cx="306" cy="169.7" rx="4.1" ry="2.8"/><ellipse cx="307" cy="171.7" rx="4.1" ry="2.8"/><ellipse cx="307.2" cy="172.9" rx="4.1" ry="2.8"/><ellipse cx="306.9" cy="174.1" rx="4.1" ry="2.8"/><ellipse cx="307.9" cy="175.9" rx="4.1" ry="2.8"/><ellipse cx="307.5" cy="176" rx="4.1" ry="2.8"/><ellipse cx="307.9" cy="177.9" rx="4.1" ry="2.8"/><ellipse cx="308.1" cy="178.4" rx="4.1" ry="2.8"/><ellipse cx="308.7" cy="180.7" rx="4.1" ry="2.8"/><ellipse cx="308.4" cy="180.1" rx="4.1" ry="2.8"/><ellipse cx="308.7" cy="181.6" rx="4.1" ry="2.8"/><ellipse cx="309.4" cy="182.4" rx="4.1" ry="2.8"/><ellipse cx="309.7" cy="184.2" rx="4.1" ry="2.8"/><ellipse cx="309.6" cy="184.1" rx="4.1" ry="2.8"/><ellipse cx="310.2" cy="185.2" rx="4.1" ry="2.8"/><ellipse cx="310.2" cy="185.9" rx="4.1" ry="2.8"/><ellipse cx="309.8" cy="187.8" rx="4.1" ry="2.8"/><ellipse cx="310.1" cy="189.4" rx="4.1" ry="2.8"/><ellipse cx="310.5" cy="188.8" rx="4.1" ry="2.8"/><ellipse cx="310.5" cy="190.4" rx="4.1" ry="2.8"/><ellipse cx="311.2" cy="192.6" rx="4.1" ry="2.8"/><ellipse cx="310.9" cy="192.7" rx="4.1" ry="2.8"/><ellipse cx="311.2" cy="195" rx="4.1" ry="2.8"/><ellipse cx="311.4" cy="194.4" rx="4.1" ry="2.8"/><ellipse cx="311.4" cy="195.6" rx="4.1" ry="2.8"/><ellipse cx="312.4" cy="197.2" rx="4.1" ry="2.8"/><ellipse cx="312.3" cy="198" rx="4.1" ry="2.8"/><ellipse cx="312.6" cy="197.3" rx="4.1" ry="2.8"/><ellipse cx="312" cy="199.1" rx="4.1" ry="2.8"/><ellipse cx="312.8" cy="197.8" rx="4.1" ry="2.8"/><ellipse cx="312.9" cy="199.1" rx="4.1" ry="2.8"/><ellipse cx="312.8" cy="199.6" rx="4.1" ry="2.8"/><ellipse cx="312.8" cy="199.5" rx="4.1" ry="2.8"/><ellipse cx="313.2" cy="200.7" rx="4.1" ry="2.8"/><ellipse cx="314.1" cy="200.8" rx="4.1" ry="2.8"/><ellipse cx="314.3" cy="201.5" rx="4.1" ry="2.8"/><ellipse cx="313.9" cy="203.3" rx="4.1" ry="2.8"/><ellipse cx="314.6" cy="203.1" rx="4.1" ry="2.8"/><ellipse cx="314.1" cy="203.7" rx="4.1" ry="2.8"/><ellipse cx="314.6" cy="205.2" rx="4.1" ry="2.8"/><ellipse cx="314.6" cy="204.7" rx="4.1" ry="2.8"/><ellipse cx="315.5" cy="204.5" rx="4.1" ry="2.8"/><ellipse cx="315.2" cy="206.7" rx="4.1" ry="2.8"/><ellipse cx="315.9" cy="206" rx="4.1" ry="2.8"/><ellipse cx="315.4" cy="206.6" rx="4.1" ry="2.8"/><ellipse cx="316.5" cy="207.5" rx="4.1" ry="2.8"/><ellipse cx="316.5" cy="209.4" rx="4.1" ry="2.8"/><ellipse cx="316.4" cy="209" rx="4.1" ry="2.8"/><ellipse cx="317.2" cy="210.2" rx="4.1" ry="2.8"/><ellipse cx="316.7" cy="211" rx="4.1" ry="2.8"/><ellipse cx="317" cy="210.7" rx="4.1" ry="2.8"/><ellipse cx="316.9" cy="212.2" rx="4.1" ry="2.8"/><ellipse cx="318" cy="212.5" rx="4.1" ry="2.8"/><ellipse cx="318.2" cy="211.9" rx="4.1" ry="2.8"/><ellipse cx="317.8" cy="213.6" rx="4.1" ry="2.8"/><ellipse cx="318.8" cy="215.1" rx="4.1" ry="2.8"/><ellipse cx="318.5" cy="214.3" rx="4.1" ry="2.8"/><ellipse cx="318.7" cy="215.3" rx="4.1" ry="2.8"/><ellipse cx="319.6" cy="215.5" rx="4.1" ry="2.8"/><ellipse cx="319.7" cy="217.2" rx="4.1" ry="2.8"/><ellipse cx="320" cy="217.8" rx="4.1" ry="2.8"/><ellipse cx="320" cy="217.5" rx="4.1" ry="2.8"/><ellipse cx="320" cy="218.1" rx="4.1" ry="2.8"/><ellipse cx="320.7" cy="218.1" rx="4.1" ry="2.8"/><ellipse cx="320.3" cy="220" rx="4.1" ry="2.8"/><ellipse cx="320.6" cy="219.1" rx="4.1" ry="2.8"/><ellipse cx="320.6" cy="220.7" rx="4.1" ry="2.8"/><ellipse cx="321.2" cy="222.1" rx="4.1" ry="2.8"/><ellipse cx="322" cy="222.6" rx="4.1" ry="2.8"/><ellipse cx="321.6" cy="221.4" rx="4.1" ry="2.8"/><ellipse cx="321.7" cy="222.7" rx="4.1" ry="2.8"/><ellipse cx="322.6" cy="223.2" rx="4.1" ry="2.8"/><ellipse cx="322.6" cy="223.9" rx="4.1" ry="2.8"/><ellipse cx="323.3" cy="224.9" rx="4.1" ry="2.8"/><ellipse cx="323.9" cy="226" rx="4.1" ry="2.8"/><ellipse cx="324.1" cy="225" rx="4.1" ry="2.8"/><ellipse cx="324.6" cy="225.9" rx="4.1" ry="2.8"/><ellipse cx="324.7" cy="226.6" rx="4.1" ry="2.8"/><ellipse cx="325.2" cy="226.7" rx="4.1" ry="2.8"/><ellipse cx="325" cy="227.3" rx="4.1" ry="2.8"/><ellipse cx="325.2" cy="229.1" rx="4.1" ry="2.8"/><ellipse cx="326" cy="228.5" rx="4.1" ry="2.8"/><ellipse cx="326.1" cy="230.3" rx="4.1" ry="2.8"/><ellipse cx="326.5" cy="229.3" rx="4.1" ry="2.8"/><ellipse cx="327.2" cy="230.7" rx="4.1" ry="2.8"/><ellipse cx="327.7" cy="230.1" rx="4.1" ry="2.8"/><ellipse cx="327.5" cy="232" rx="4.1" ry="2.8"/><ellipse cx="328.2" cy="232.7" rx="4.1" ry="2.8"/><ellipse cx="327.7" cy="232" rx="4.1" ry="2.8"/><ellipse cx="328.2" cy="232.2" rx="4.1" ry="2.8"/><ellipse cx="329.5" cy="233.4" rx="4.1" ry="2.8"/><ellipse cx="329.8" cy="233.5" rx="4.1" ry="2.8"/><ellipse cx="330.2" cy="234" rx="4.1" ry="2.8"/><ellipse cx="330" cy="235.1" rx="4.1" ry="2.8"/><ellipse cx="331.1" cy="234.2" rx="4.1" ry="2.8"/><ellipse cx="331.1" cy="235.7" rx="4.1" ry="2.8"/><ellipse cx="331.1" cy="235.7" rx="4.1" ry="2.8"/><ellipse cx="331.5" cy="235.8" rx="4.1" ry="2.8"/><ellipse cx="332" cy="237" rx="4.1" ry="2.8"/><ellipse cx="332.8" cy="236.6" rx="4.1" ry="2.8"/><ellipse cx="332.6" cy="237.3" rx="4.1" ry="2.8"/><ellipse cx="333.6" cy="237.5" rx="4.1" ry="2.8"/><ellipse cx="333.7" cy="238" rx="4.1" ry="2.8"/><ellipse cx="334.6" cy="239.1" rx="4.1" ry="2.8"/><ellipse cx="334.2" cy="238.7" rx="4.1" ry="2.8"/><ellipse cx="335" cy="240" rx="4.1" ry="2.8"/><ellipse cx="336" cy="239.6" rx="4.1" ry="2.8"/><ellipse cx="336.3" cy="241.3" rx="4.1" ry="2.8"/><ellipse cx="337" cy="240.8" rx="4.1" ry="2.8"/><ellipse cx="337.4" cy="242.4" rx="4.1" ry="2.8"/><ellipse cx="337.9" cy="242" rx="4.1" ry="2.8"/><ellipse cx="338.5" cy="242" rx="4.1" ry="2.8"/><ellipse cx="339.5" cy="243.5" rx="4.1" ry="2.8"/><ellipse cx="339.7" cy="242.4" rx="4.1" ry="2.8"/><ellipse cx="340.6" cy="242.8" rx="4.1" ry="2.8"/><ellipse cx="340.4" cy="244.5" rx="4.1" ry="2.8"/><ellipse cx="341.5" cy="244.8" rx="4.1" ry="2.8"/><ellipse cx="342" cy="245.3" rx="4.1" ry="2.8"/><ellipse cx="342.6" cy="244.2" rx="4.1" ry="2.8"/><ellipse cx="342.6" cy="245.3" rx="4.1" ry="2.8"/><ellipse cx="343.7" cy="246.4" rx="4.1" ry="2.8"/><ellipse cx="343.7" cy="246.1" rx="4.1" ry="2.8"/><ellipse cx="344.7" cy="246.3" rx="4.1" ry="2.8"/><ellipse cx="345.1" cy="246.2" rx="4.1" ry="2.8"/><ellipse cx="346" cy="247.7" rx="4.1" ry="2.8"/><ellipse cx="346.1" cy="247.2" rx="4.1" ry="2.8"/><ellipse cx="347.3" cy="248.4" rx="4.1" ry="2.8"/><ellipse cx="347.2" cy="247" rx="4.1" ry="2.8"/><ellipse cx="348.5" cy="249" rx="4.1" ry="2.8"/><ellipse cx="348.6" cy="247.4" rx="4.1" ry="2.8"/><ellipse cx="349.8" cy="248.5" rx="4.1" ry="2.8"/><ellipse cx="350.3" cy="249.3" rx="4.1" ry="2.8"/><ellipse cx="350.7" cy="248.7" rx="4.1" ry="2.8"/><ellipse cx="351.5" cy="249.2" rx="4.1" ry="2.8"/><ellipse cx="351.9" cy="250.9" rx="4.1" ry="2.8"/><ellipse cx="352.9" cy="249.8" rx="4.1" ry="2.8"/><ellipse cx="352.8" cy="250.4" rx="4.1" ry="2.8"/><ellipse cx="353.7" cy="250.5" rx="4.1" ry="2.8"/><ellipse cx="353.9" cy="250.5" rx="4.1" ry="2.8"/><ellipse cx="355.3" cy="252.1" rx="4.1" ry="2.8"/><ellipse cx="355.2" cy="251.6" rx="4.1" ry="2.8"/><ellipse cx="356.5" cy="250.7" rx="4.1" ry="2.8"/><ellipse cx="357.2" cy="251.1" rx="4.1" ry="2.8"/><ellipse cx="357.5" cy="252.1" rx="4.1" ry="2.8"/><ellipse cx="358.1" cy="251.8" rx="4.1" ry="2.8"/><ellipse cx="358.5" cy="252.6" rx="4.1" ry="2.8"/><ellipse cx="359.3" cy="252.9" rx="4.1" ry="2.8"/><ellipse cx="360.3" cy="252.6" rx="4.1" ry="2.8"/></g>
<path d="M299.2 24.5 L299.2 25 L299.3 25.5 L299.3 26 L299.3 26.5 L299.3 27 L299.4 27.5 L299.4 28 L299.4 28.5 L299.4 29 L299.5 29.5 L299.5 30 L299.5 30.5 L299.5 31 L299.6 31.5 L299.6 32 L299.6 32.5 L299.7 33 L299.7 33.5 L299.7 34 L299.7 34.5 L299.8 35 L299.8 35.5 L299.8 36 L299.8 36.5 L299.9 37 L299.9 37.5 L299.9 38 L300 38.5 L300 39 L300 39.5 L300 40 L300.1 40.5 L300.1 41 L300.1 41.5 L300.1 42 L300.2 42.5 L300.2 43 L300.2 43.5 L300.2 44 L300.3 44.5 L300.3 45 L300.3 45.5 L300.4 46 L300.4 46.5 L300.4 47 L300.4 47.5 L300.5 48 L300.5 48.5 L300.5 49 L300.5 49.5 L300.6 50 L300.6 50.5 L300.6 51 L300.7 51.5 L300.7 52 L300.7 52.5 L300.7 53 L300.8 53.5 L300.8 54 L300.8 54.5 L300.8 55 L300.9 55.5 L300.9 56 L300.9 56.5 L300.9 57 L301 57.5 L301 58 L301 58.5 L301.1 59 L301.1 59.5 L301.1 60 L301.2 60.5 L301.2 61 L301.3 61.5 L301.3 62 L301.4 62.5 L301.4 63 L301.5 63.5 L301.5 64 L301.6 64.5 L301.6 65 L301.7 65.5 L301.7 66 L301.8 66.5 L301.8 67 L301.9 67.5 L301.9 68 L302 68.5 L302 69 L302.1 69.5 L302.1 70 L302.2 70.5 L302.3 71 L302.3 71.5 L302.4 72 L302.4 72.5 L302.5 73 L302.5 73.5 L302.6 74 L302.6 74.5 L302.7 75 L302.7 75.5 L302.8 76 L302.8 76.5 L302.9 77 L302.9 77.5 L303 78 L303 78.4 L303.1 78.9 L303.1 79.4 L303.2 79.9 L303.2 80.4 L303.3 80.9 L303.3 81.4 L303.4 81.9 L303.4 82.4 L303.5 82.9 L303.5 83.4 L303.6 83.9 L303.6 84.4 L303.7 84.9 L303.7 85.4 L303.8 85.9 L303.8 86.4 L303.8 86.9 L303.9 87.4 L303.9 87.9 L303.9 88.4 L303.9 88.9 L304 89.4 L304 89.9 L304 90.4 L304 90.9 L304 91.4 L304.1 91.9 L304.1 92.4 L304.1 92.9 L304.1 93.4 L304.2 93.9 L304.2 94.4 L304.2 94.9 L304.2 95.4 L304.3 95.9 L304.3 96.4 L304.3 96.9 L304.3 97.4 L304.3 97.9 L304.4 98.4 L304.4 98.9 L304.4 99.4 L304.4 99.9 L304.5 100.4 L304.5 100.9 L304.5 101.4 L304.5 101.9 L304.5 102.4 L304.6 102.9 L304.6 103.4 L304.6 103.9 L304.6 104.4 L304.7 104.9 L304.7 105.4 L304.7 105.9 L304.7 106.4 L304.8 106.9 L304.8 107.4 L304.8 107.9 L304.9 108.4 L304.9 108.9 L305 109.4 L305 109.9 L305.1 110.4 L305.2 110.9 L305.2 111.4 L305.3 111.9 L305.3 112.4 L305.4 112.9 L305.4 113.4 L305.5 113.9 L305.5 114.4 L305.5 114.9 L305.6 115.4 L305.6 115.9 L305.7 116.4 L305.7 116.9 L305.7 117.4 L305.8 117.9 L305.8 118.4 L305.9 118.9 L305.9 119.4 L305.9 119.9 L306 120.4 L306 120.9 L306.1 121.4 L306.1 121.9 L306.1 122.4 L306.2 122.9 L306.2 123.4 L306.3 123.9 L306.3 124.4 L306.3 124.9 L306.4 125.4 L306.4 125.9 L306.5 126.4 L306.5 126.9 L306.5 127.4 L306.6 127.9 L306.6 128.4 L306.7 128.9 L306.7 129.4 L306.7 129.9 L306.8 130.4 L306.8 130.9 L306.9 131.4 L306.9 131.9 L306.9 132.4 L307 132.9 L307 133.4 L307.1 133.9 L307.1 134.4 L307.1 134.9 L307.2 135.4 L307.2 135.9 L307.3 136.4 L307.4 136.9 L307.5 137.4 L307.6 137.8 L307.7 138.3 L307.8 138.8 L307.9 139.3 L308 139.8 L308.1 140.3 L308.2 140.8 L308.3 141.3 L308.4 141.8 L308.5 142.3 L308.6 142.8 L308.7 143.3 L308.8 143.7 L308.9 144.2 L309 144.7 L309.1 145.2 L309.2 145.7 L309.2 146.2 L309.3 146.7 L309.4 147.2 L309.5 147.7 L309.6 148.2 L309.8 148.7 L309.9 149.1 L310 149.6 L310.1 150.1 L310.2 150.6 L310.4 151.1 L310.5 151.6 L310.6 152.1 L310.7 152.6 L310.8 153.1 L311 153.6 L311.1 154.1 L311.2 154.5 L311.3 155 L311.4 155.5 L311.6 156 L311.7 156.5 L311.8 157 L311.9 157.5 L312 158 L312.2 158.5 L312.3 158.9 L312.4 159.4 L312.5 159.9 L312.6 160.3 L312.8 160.8 L312.9 161.2 L313 161.7 L313.2 162.2 L313.3 162.7 L313.5 163.2 L313.6 163.7 L313.8 164.2 L313.9 164.7 L314.1 165.2 L314.2 165.6 L314.4 166.1 L314.5 166.5 L314.7 167 L314.8 167.5 L315 168 L315.1 168.5 L315.3 169.1 L315.4 169.6 L315.6 170 L315.7 170.5 L315.9 170.9 L316 171.3 L316.2 171.7 L316.4 172.1 L316.5 172.5 L316.7 173 L316.8 173.5 L317 174 L317.2 174.6 L317.3 175 L317.5 175.5 L317.6 175.9 L317.8 176.3 L318 176.8 L318.2 177.2 L318.4 177.7 L318.6 178.3 L318.8 178.8 L319 179.4 L319.2 180 L319.4 180.6 L319.6 181.1 L319.7 181.5 L319.9 182 L320.1 182.4 L320.3 182.8 L320.5 183.2 L320.7 183.7 L320.9 184.2 L321.1 184.7 L321.3 185.2 L321.5 185.7 L321.7 186.1 L321.9 186.5 L322.1 186.8 L322.2 187.1 L322.4 187.4 L322.6 187.7 L322.8 188.2 L323 188.7 L323.3 189.2 L323.5 189.7 L323.7 190.3 L323.9 190.8 L324.1 191.2 L324.3 191.6 L324.5 192 L324.7 192.4 L324.9 192.8 L325.1 193.3 L325.3 193.9 L325.5 194.5 L325.7 195.1 L325.9 195.7 L326.1 196.2 L326.3 196.6 L326.5 197 L326.7 197.3 L326.9 197.6 L327.2 197.9 L327.4 198.3 L327.6 198.8 L327.8 199.3 L328 199.8 L328.2 200.4 L328.4 200.9 L328.7 201.3 L328.9 201.7 L329.1 202 L329.3 202.3 L329.6 202.7 L329.8 203.2 L330 203.7 L330.2 204.3 L330.5 205 L330.7 205.7 L330.9 206.3 L331.2 206.8 L331.4 207.3 L331.6 207.7 L331.8 208 L332.1 208.4 L332.3 208.8 L332.5 209.2 L332.7 209.7 L333 210.2 L333.2 210.7 L333.5 211.1 L333.8 211.5 L334.2 211.7 L334.5 211.9 L334.8 212.1 L335.1 212.2 L335.5 212.4 L335.8 212.7 L336.1 213.1 L336.5 213.5 L336.8 214 L337.1 214.5 L337.5 214.9 L337.8 215.3 L338.1 215.7 L338.4 216 L338.8 216.3 L339.1 216.6 L339.4 217 L339.8 217.5 L340.1 218.1 L340.4 218.6 L340.8 219.2 L341.2 219.6 L341.5 220 L341.9 220.3 L342.3 220.5 L342.7 220.6 L343.1 220.8 L343.5 221 L343.9 221.3 L344.3 221.6 L344.7 222 L345.1 222.4 L345.5 222.8 L345.9 223.1 L346.3 223.3 L346.7 223.5 L347.1 223.7 L347.5 223.9 L347.9 224.1 L348.3 224.4 L348.7 224.8 L349.1 225.3 L349.5 225.7 L350 226.2 L350.4 226.6 L350.8 226.9 L351.2 227.2 L351.6 227.3 L352 227.5 L352.4 227.7 L352.8 228 L353.3 228.3 L353.7 228.7 L354.1 229.1 L354.5 229.4 L354.9 229.7 L355.3 229.9 L355.7 230 L356.2 230.1 L356.6 230.1 L357 230.2 L357.4 230.4 L357.8 230.6 L358.2 231 L358.6 231.3 L359 231.7 L359.4 232.1 L359.8 232.4 L360.2 232.7 L360.7 232.9 L361.1 233.1 L361.5 233.4 L361.9 233.7 L362.3 234.1 L362.7 234.5 L363.2 234.9 L363.6 235.4 L364.1 235.8 L364.5 236.1 L365 236.3 L365.4 236.5 L365.9 236.6 L366.3 236.7 L366.8 236.8 L367.2 237 L367.7 237.2 L368.1 237.5 L368.6 237.8 L369 238.1 L369.5 238.3 L370 238.4 L370.4 238.4 L370.9 238.4 L371.4 238.4 L371.9 238.5 L372.3 238.6 L372.8 238.7 L373.3 239 L373.8 239.3 L374.2 239.6 L374.7 239.9 L375.2 240.1 L375.7 240.3 L376.1 240.4 L376.6 240.4 L377.1 240.5 L377.6 240.6 L378.1 240.7 L378.6 240.9 L379 241.1 L379.5 241.4 L380 241.5 L380.5 241.6 L381 241.7 L381.5 241.6 L382 241.5 L382.4 241.4 L382.9 241.4 L383.4 241.4 L383.9 241.6 L384.4 241.8 L384.9 242 L385.4 242.2 L385.9 242.4 L386.3 242.5 L386.8 242.6 L387.3 242.6 L387.8 242.7" stroke="#f00" stroke-width="0.9"/>
<g fill="#f00"><ellipse cx="299.5" cy="30" rx="1.6" ry="1.05"/><ellipse cx="299.6" cy="32" rx="1.6" ry="1.05"/><ellipse cx="299.7" cy="34" rx="1.6" ry="1.05"/><ellipse cx="299.8" cy="36.5" rx="1.6" ry="1.05"/><ellipse cx="300" cy="39" rx="1.6" ry="1.05"/><ellipse cx="300.1" cy="41" rx="1.6" ry="1.05"/><ellipse cx="300.9" cy="55.5" rx="1.6" ry="1.05"/><ellipse cx="301" cy="58.5" rx="1.6" ry="1.05"/><ellipse cx="301.3" cy="61.5" rx="1.6" ry="1.05"/><ellipse cx="301.5" cy="63.5" rx="1.6" ry="1.05"/><ellipse cx="301.7" cy="66" rx="1.6" ry="1.05"/><ellipse cx="302" cy="68.5" rx="1.6" ry="1.05"/><ellipse cx="302.2" cy="70.5" rx="1.6" ry="1.05"/><ellipse cx="303.8" cy="86.9" rx="1.6" ry="1.05"/><ellipse cx="304" cy="89.4" rx="1.6" ry="1.05"/><ellipse cx="305" cy="109.4" rx="1.6" ry="1.05"/><ellipse cx="305.2" cy="111.4" rx="1.6" ry="1.05"/><ellipse cx="305.5" cy="113.9" rx="1.6" ry="1.05"/><ellipse cx="305.7" cy="116.4" rx="1.6" ry="1.05"/><ellipse cx="307.5" cy="136.9" rx="1.6" ry="1.05"/><ellipse cx="307.7" cy="138.3" rx="1.6" ry="1.05"/><ellipse cx="308" cy="139.2" rx="1.6" ry="1.05"/><ellipse cx="308.1" cy="140.4" rx="1.6" ry="1.05"/><ellipse cx="308.4" cy="141.3" rx="1.6" ry="1.05"/><ellipse cx="308.5" cy="142.7" rx="1.6" ry="1.05"/><ellipse cx="308.8" cy="144.3" rx="1.6" ry="1.05"/><ellipse cx="309" cy="145.3" rx="1.6" ry="1.05"/><ellipse cx="309.4" cy="146.1" rx="1.6" ry="1.05"/><ellipse cx="309.6" cy="147.8" rx="1.6" ry="1.05"/><ellipse cx="309.8" cy="149.1" rx="1.6" ry="1.05"/><ellipse cx="310.4" cy="150.5" rx="1.6" ry="1.05"/><ellipse cx="310.5" cy="151.5" rx="1.6" ry="1.05"/><ellipse cx="311" cy="153.2" rx="1.6" ry="1.05"/><ellipse cx="311.1" cy="153.9" rx="1.6" ry="1.05"/><ellipse cx="311.5" cy="155.5" rx="1.6" ry="1.05"/><ellipse cx="311.9" cy="157" rx="1.6" ry="1.05"/><ellipse cx="312.2" cy="158.6" rx="1.6" ry="1.05"/><ellipse cx="312.4" cy="159.4" rx="1.6" ry="1.05"/><ellipse cx="312.9" cy="160.7" rx="1.6" ry="1.05"/><ellipse cx="313.3" cy="162.1" rx="1.6" ry="1.05"/><ellipse cx="313.7" cy="163.6" rx="1.6" ry="1.05"/><ellipse cx="314.3" cy="165.1" rx="1.6" ry="1.05"/><ellipse cx="314.3" cy="166.4" rx="1.6" ry="1.05"/><ellipse cx="314.8" cy="167.3" rx="1.6" ry="1.05"/><ellipse cx="315.2" cy="169" rx="1.6" ry="1.05"/><ellipse cx="315.6" cy="170" rx="1.6" ry="1.05"/><ellipse cx="315.9" cy="171.2" rx="1.6" ry="1.05"/><ellipse cx="316.6" cy="172.7" rx="1.6" ry="1.05"/><ellipse cx="316.8" cy="173.4" rx="1.6" ry="1.05"/><ellipse cx="317.3" cy="174.5" rx="1.6" ry="1.05"/><ellipse cx="317.5" cy="175.8" rx="1.6" ry="1.05"/><ellipse cx="318.1" cy="176.9" rx="1.6" ry="1.05"/><ellipse cx="318.5" cy="177.7" rx="1.6" ry="1.05"/><ellipse cx="318.8" cy="178.8" rx="1.6" ry="1.05"/><ellipse cx="319.4" cy="180" rx="1.6" ry="1.05"/><ellipse cx="319.6" cy="181.2" rx="1.6" ry="1.05"/><ellipse cx="320.1" cy="182" rx="1.6" ry="1.05"/><ellipse cx="320.2" cy="182.8" rx="1.6" ry="1.05"/><ellipse cx="320.7" cy="184.3" rx="1.6" ry="1.05"/><ellipse cx="321.4" cy="185.8" rx="1.6" ry="1.05"/><ellipse cx="322" cy="186.7" rx="1.6" ry="1.05"/><ellipse cx="322.7" cy="188.1" rx="1.6" ry="1.05"/><ellipse cx="323.1" cy="189" rx="1.6" ry="1.05"/><ellipse cx="323.8" cy="190.2" rx="1.6" ry="1.05"/><ellipse cx="324" cy="191.2" rx="1.6" ry="1.05"/><ellipse cx="324.5" cy="192" rx="1.6" ry="1.05"/><ellipse cx="324.9" cy="192.9" rx="1.6" ry="1.05"/><ellipse cx="325.3" cy="194" rx="1.6" ry="1.05"/><ellipse cx="325.9" cy="195" rx="1.6" ry="1.05"/><ellipse cx="326.3" cy="196.3" rx="1.6" ry="1.05"/><ellipse cx="326.4" cy="196.5" rx="1.6" ry="1.05"/><ellipse cx="326.7" cy="197" rx="1.6" ry="1.05"/><ellipse cx="326.5" cy="197.2" rx="1.6" ry="1.05"/><ellipse cx="327.3" cy="198" rx="1.6" ry="1.05"/><ellipse cx="327.5" cy="198.7" rx="1.6" ry="1.05"/><ellipse cx="327.6" cy="199.2" rx="1.6" ry="1.05"/><ellipse cx="328.1" cy="199.8" rx="1.6" ry="1.05"/><ellipse cx="328.1" cy="200.5" rx="1.6" ry="1.05"/><ellipse cx="328.8" cy="201.2" rx="1.6" ry="1.05"/><ellipse cx="329.3" cy="202" rx="1.6" ry="1.05"/><ellipse cx="329.7" cy="202.8" rx="1.6" ry="1.05"/><ellipse cx="330.2" cy="203.8" rx="1.6" ry="1.05"/><ellipse cx="330.4" cy="204.2" rx="1.6" ry="1.05"/><ellipse cx="330.6" cy="205" rx="1.6" ry="1.05"/><ellipse cx="330.8" cy="205.6" rx="1.6" ry="1.05"/><ellipse cx="331.1" cy="206.3" rx="1.6" ry="1.05"/><ellipse cx="331.3" cy="207.2" rx="1.6" ry="1.05"/><ellipse cx="331.7" cy="208" rx="1.6" ry="1.05"/><ellipse cx="332.1" cy="208.7" rx="1.6" ry="1.05"/><ellipse cx="332.4" cy="209.2" rx="1.6" ry="1.05"/><ellipse cx="333" cy="210.2" rx="1.6" ry="1.05"/><ellipse cx="333.3" cy="210.6" rx="1.6" ry="1.05"/><ellipse cx="333.6" cy="211.1" rx="1.6" ry="1.05"/><ellipse cx="333.9" cy="211.5" rx="1.6" ry="1.05"/><ellipse cx="334.6" cy="211.9" rx="1.6" ry="1.05"/><ellipse cx="335.1" cy="212.3" rx="1.6" ry="1.05"/><ellipse cx="335.6" cy="212.7" rx="1.6" ry="1.05"/><ellipse cx="336.5" cy="213.4" rx="1.6" ry="1.05"/><ellipse cx="336.8" cy="214.1" rx="1.6" ry="1.05"/><ellipse cx="337.3" cy="214.4" rx="1.6" ry="1.05"/><ellipse cx="337.6" cy="214.9" rx="1.6" ry="1.05"/><ellipse cx="337.8" cy="215.4" rx="1.6" ry="1.05"/><ellipse cx="338.3" cy="216" rx="1.6" ry="1.05"/><ellipse cx="339.1" cy="216.6" rx="1.6" ry="1.05"/><ellipse cx="339.6" cy="217" rx="1.6" ry="1.05"/><ellipse cx="340.1" cy="218.1" rx="1.6" ry="1.05"/><ellipse cx="340.5" cy="218.6" rx="1.6" ry="1.05"/><ellipse cx="340.7" cy="219.2" rx="1.6" ry="1.05"/><ellipse cx="341.2" cy="219.7" rx="1.6" ry="1.05"/><ellipse cx="341.5" cy="220.1" rx="1.6" ry="1.05"/><ellipse cx="342.3" cy="220.5" rx="1.6" ry="1.05"/><ellipse cx="342.6" cy="220.6" rx="1.6" ry="1.05"/><ellipse cx="343.7" cy="221.1" rx="1.6" ry="1.05"/><ellipse cx="344.4" cy="221.6" rx="1.6" ry="1.05"/><ellipse cx="344.6" cy="222" rx="1.6" ry="1.05"/><ellipse cx="345.2" cy="222.5" rx="1.6" ry="1.05"/><ellipse cx="346" cy="222.9" rx="1.6" ry="1.05"/><ellipse cx="346.8" cy="223.6" rx="1.6" ry="1.05"/><ellipse cx="347.1" cy="223.5" rx="1.6" ry="1.05"/><ellipse cx="347.8" cy="224" rx="1.6" ry="1.05"/><ellipse cx="348.2" cy="224.5" rx="1.6" ry="1.05"/><ellipse cx="348.8" cy="224.9" rx="1.6" ry="1.05"/><ellipse cx="349.2" cy="225.4" rx="1.6" ry="1.05"/><ellipse cx="349.6" cy="225.8" rx="1.6" ry="1.05"/><ellipse cx="350" cy="226.2" rx="1.6" ry="1.05"/><ellipse cx="350.8" cy="227" rx="1.6" ry="1.05"/><ellipse cx="351.1" cy="227.2" rx="1.6" ry="1.05"/><ellipse cx="352" cy="227.6" rx="1.6" ry="1.05"/><ellipse cx="352.7" cy="227.9" rx="1.6" ry="1.05"/><ellipse cx="353.5" cy="228.8" rx="1.6" ry="1.05"/><ellipse cx="354.3" cy="229.1" rx="1.6" ry="1.05"/><ellipse cx="354.5" cy="229.5" rx="1.6" ry="1.05"/><ellipse cx="355.4" cy="229.9" rx="1.6" ry="1.05"/><ellipse cx="356.1" cy="230" rx="1.6" ry="1.05"/><ellipse cx="356.9" cy="230.2" rx="1.6" ry="1.05"/><ellipse cx="357.8" cy="230.7" rx="1.6" ry="1.05"/><ellipse cx="358.8" cy="231.2" rx="1.6" ry="1.05"/><ellipse cx="359" cy="231.6" rx="1.6" ry="1.05"/><ellipse cx="359.3" cy="232.2" rx="1.6" ry="1.05"/><ellipse cx="359.9" cy="232.6" rx="1.6" ry="1.05"/><ellipse cx="360.6" cy="232.8" rx="1.6" ry="1.05"/><ellipse cx="361.4" cy="233.4" rx="1.6" ry="1.05"/><ellipse cx="362.1" cy="233.8" rx="1.6" ry="1.05"/><ellipse cx="362.7" cy="234.5" rx="1.6" ry="1.05"/><ellipse cx="363" cy="235" rx="1.6" ry="1.05"/><ellipse cx="363.5" cy="235.3" rx="1.6" ry="1.05"/><ellipse cx="364.3" cy="235.9" rx="1.6" ry="1.05"/><ellipse cx="365" cy="236.2" rx="1.6" ry="1.05"/><ellipse cx="365.6" cy="236.4" rx="1.6" ry="1.05"/><ellipse cx="366.5" cy="236.6" rx="1.6" ry="1.05"/><ellipse cx="366.6" cy="236.9" rx="1.6" ry="1.05"/><ellipse cx="367.1" cy="237.1" rx="1.6" ry="1.05"/><ellipse cx="367.6" cy="237.1" rx="1.6" ry="1.05"/><ellipse cx="368.2" cy="237.6" rx="1.6" ry="1.05"/><ellipse cx="368.7" cy="237.9" rx="1.6" ry="1.05"/><ellipse cx="368.9" cy="238.1" rx="1.6" ry="1.05"/><ellipse cx="369.6" cy="238.3" rx="1.6" ry="1.05"/><ellipse cx="370.1" cy="238.3" rx="1.6" ry="1.05"/><ellipse cx="371.1" cy="238.5" rx="1.6" ry="1.05"/><ellipse cx="371.2" cy="238.3" rx="1.6" ry="1.05"/><ellipse cx="372.4" cy="238.7" rx="1.6" ry="1.05"/><ellipse cx="372.6" cy="238.7" rx="1.6" ry="1.05"/><ellipse cx="373.9" cy="239.2" rx="1.6" ry="1.05"/><ellipse cx="374.4" cy="239.6" rx="1.6" ry="1.05"/><ellipse cx="374.5" cy="239.9" rx="1.6" ry="1.05"/><ellipse cx="375.2" cy="240.1" rx="1.6" ry="1.05"/><ellipse cx="376.2" cy="240.3" rx="1.6" ry="1.05"/><ellipse cx="376.7" cy="240.4" rx="1.6" ry="1.05"/><ellipse cx="377.2" cy="240.5" rx="1.6" ry="1.05"/><ellipse cx="377.6" cy="240.5" rx="1.6" ry="1.05"/><ellipse cx="378.2" cy="240.8" rx="1.6" ry="1.05"/><ellipse cx="379.2" cy="241.2" rx="1.6" ry="1.05"/><ellipse cx="379.4" cy="241.2" rx="1.6" ry="1.05"/><ellipse cx="380.7" cy="241.7" rx="1.6" ry="1.05"/><ellipse cx="381.1" cy="241.6" rx="1.6" ry="1.05"/><ellipse cx="382" cy="241.7" rx="1.6" ry="1.05"/><ellipse cx="383.1" cy="241.4" rx="1.6" ry="1.05"/><ellipse cx="383.3" cy="241.4" rx="1.6" ry="1.05"/><ellipse cx="384.5" cy="241.7" rx="1.6" ry="1.05"/><ellipse cx="385" cy="242" rx="1.6" ry="1.05"/><ellipse cx="385.5" cy="242.3" rx="1.6" ry="1.05"/><ellipse cx="386.3" cy="242.3" rx="1.6" ry="1.05"/><ellipse cx="387.2" cy="242.6" rx="1.6" ry="1.05"/></g>
<path d="M283.6 -2000 L285.5 23.4 L287.4 82.5 L289.7 95.5 L291.8 101.7 L293.6 105.5 L296.7 108 L298.6 110.8 L299.8 116.4 L302.6 121 L304.6 131.4 L306.5 136.8 L308.3 141.5 L310.2 145.2 L312.6 158.7 L314.5 161.8 L316.3 164.9 L318.1 167.3 L320 169.4 L321.8 170.4 L323.9 180.7 L325.6 181.5 L327.4 182.3 L329.1 183.1 L330.9 183.8 L332.6 184.6 L334.3 185.4 L336.1 186.2 L337.8 187 L338.9 195.4 L340.5 195.5 L342.1 195.6 L343.7 195.7 L345.3 195.8 L346.2 206.3 L347.9 206.1 L349.7 205.9 L351.4 205.7 L353.2 205.5 L354.9 205.2 L356.6 205 L358.4 204.8 L360.1 204.6 L361.9 204.4 L363.6 204.2 L365.3 216.6 L367 216.6 L368.7 216.6 L370.5 216.5 L372.2 216.5 L373.9 216.5 L375.6 216.5 L377.3 216.5 L379 216.4 L380.8 216.4 L382.5 216.4 L384.2 216.4 L385.9 216.3 L387.6 216.3 L389.4 216.3 L391.1 216.3 L392.8 216.3 L394.5 216.2 L396.2 216.2 L398 216.2 L399.7 216.2 L401.4 216.2 L403.1 216.1 L404.8 216.1 L406.5 216.1 L408.3 216.1 L410 216.1 L411.7 216 L413.4 216 L415.1 216 L416.9 216 L418.6 215.9 L420.3 215.9 L422 215.9 L423.7 215.9 L425.4 215.9 L427.2 215.8 L428.9 215.8 L430.6 215.8" stroke="#000" stroke-width="0.85"/>
<path d="M283.4 82.5h8M287.4 79.7v5.7M285.7 95.5h8M289.7 92.7v5.7M287.8 101.7h8M291.8 98.9v5.7M289.6 105.5h8M293.6 102.7v5.7M292.7 108h8M296.7 105.2v5.7M294.6 110.8h8M298.6 108v5.7M295.8 116.4h8M299.8 113.6v5.7M298.6 121h8M302.6 118.2v5.7M300.6 131.4h8M304.6 128.6v5.7M302.5 136.8h8M306.5 134v5.7M304.3 141.5h8M308.3 138.7v5.7M306.2 145.2h8M310.2 142.3v5.7M308.6 158.7h8M312.6 155.8v5.7M310.5 161.8h8M314.5 159v5.7M312.3 164.9h8M316.3 162.1v5.7M314.1 167.3h8M318.1 164.5v5.7M316 169.4h8M320 166.6v5.7M317.8 170.4h8M321.8 167.6v5.7M319.9 180.7h8M323.9 177.8v5.7M321.6 181.5h8M325.6 178.6v5.7M323.4 182.3h8M327.4 179.4v5.7M325.1 183.1h8M329.1 180.2v5.7M326.9 183.8h8M330.9 181v5.7M328.6 184.6h8M332.6 181.8v5.7M330.3 185.4h8M334.3 182.6v5.7M332.1 186.2h8M336.1 183.4v5.7M333.8 187h8M337.8 184.2v5.7M334.9 195.4h8M338.9 192.6v5.7M336.5 195.5h8M340.5 192.7v5.7M338.1 195.6h8M342.1 192.8v5.7M339.7 195.7h8M343.7 192.9v5.7M341.3 195.8h8M345.3 193v5.7M342.2 206.3h8M346.2 203.5v5.7M343.9 206.1h8M347.9 203.2v5.7M345.7 205.9h8M349.7 203v5.7M347.4 205.7h8M351.4 202.8v5.7M349.2 205.5h8M353.2 202.6v5.7M350.9 205.2h8M354.9 202.4v5.7M352.6 205h8M356.6 202.2v5.7M354.4 204.8h8M358.4 202v5.7M356.1 204.6h8M360.1 201.8v5.7M357.9 204.4h8M361.9 201.6v5.7M359.6 204.2h8M363.6 201.3v5.7M361.3 216.6h8M365.3 213.8v5.7M363 216.6h8M367 213.7v5.7M364.7 216.6h8M368.7 213.7v5.7M366.5 216.5h8M370.5 213.7v5.7M368.2 216.5h8M372.2 213.7v5.7M369.9 216.5h8M373.9 213.6v5.7M371.6 216.5h8M375.6 213.6v5.7M373.3 216.5h8M377.3 213.6v5.7M375 216.4h8M379 213.6v5.7M376.8 216.4h8M380.8 213.6v5.7M378.5 216.4h8M382.5 213.5v5.7M380.2 216.4h8M384.2 213.5v5.7M381.9 216.3h8M385.9 213.5v5.7M383.6 216.3h8M387.6 213.5v5.7M385.4 216.3h8M389.4 213.5v5.7M387.1 216.3h8M391.1 213.4v5.7M388.8 216.3h8M392.8 213.4v5.7M390.5 216.2h8M394.5 213.4v5.7M392.2 216.2h8M396.2 213.4v5.7M394 216.2h8M398 213.3v5.7M395.7 216.2h8M399.7 213.3v5.7M397.4 216.2h8M401.4 213.3v5.7M399.1 216.1h8M403.1 213.3v5.7M400.8 216.1h8M404.8 213.3v5.7M402.5 216.1h8M406.5 213.2v5.7M404.3 216.1h8M408.3 213.2v5.7M406 216.1h8M410 213.2v5.7M407.7 216h8M411.7 213.2v5.7M409.4 216h8M413.4 213.2v5.7M411.1 216h8M415.1 213.1v5.7M412.9 216h8M416.9 213.1v5.7M414.6 215.9h8M418.6 213.1v5.7M416.3 215.9h8M420.3 213.1v5.7M418 215.9h8M422 213.1v5.7M419.7 215.9h8M423.7 213v5.7M421.4 215.9h8M425.4 213v5.7M423.2 215.8h8M427.2 213v5.7M424.9 215.8h8M428.9 213v5.7M426.6 215.8h8M430.6 213v5.7" stroke="#000" stroke-width="0.72"/>
</g>
<rect x="343.1" y="29.4" width="94.7" height="47.5" fill="#fff" stroke="#000" stroke-width="1"/><path d="M350.9 36.4H392.2" stroke="#0f0" stroke-width="0.8" stroke-dasharray="8.3 8.15" fill="none"/><text transform="translate(396.4 39.7) scale(1.43 1)" text-anchor="start" font-size="9.5">PSSV</text><path d="M350.9 47.4H392.2" stroke="#f00" stroke-width="0.8" fill="none"/><text transform="translate(396.4 50.7) scale(1.43 1)" text-anchor="start" font-size="9.5">SSV</text><path d="M350.9 58.6H392.2" stroke="#00f" stroke-width="0.8" fill="none"/><text transform="translate(396.4 61.9) scale(1.43 1)" text-anchor="start" font-size="9.5">SV</text><path d="M350.9 69.3H392.2" stroke="#000" stroke-width="0.8" fill="none"/><text transform="translate(396.4 72.6) scale(1.43 1)" text-anchor="start" font-size="9.5">V</text><ellipse cx="371.6" cy="36.4" rx="4.1" ry="2.8" fill="none" stroke="#0f0" stroke-width="1"/><ellipse cx="371.6" cy="47.4" rx="1.6" ry="1.05" fill="#f00"/><path d="M367.6 58.6h8M371.6 55.7v5.8M368.7 56.5l5.7 4.1M368.7 60.7l5.7 -4.1" stroke="#00f" stroke-width="0.9" fill="none"/><path d="M367.6 69.3h8M371.6 66.5v5.7" stroke="#000" stroke-width="0.8" fill="none"/>
</svg>
</body></html>
